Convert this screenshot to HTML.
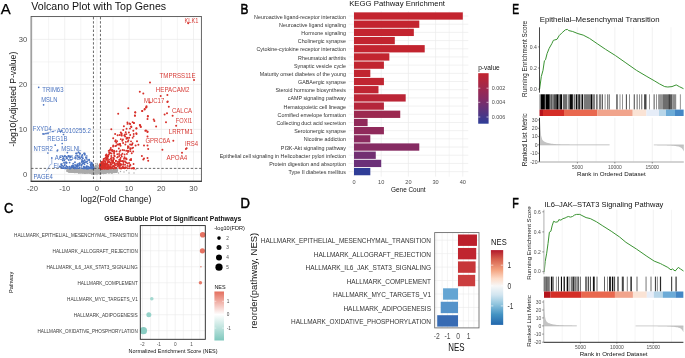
<!DOCTYPE html><html><head><meta charset="utf-8"><style>html,body{margin:0;padding:0;background:#fff;}svg{display:block;will-change:transform;}text{font-family:"Liberation Sans", sans-serif;}</style></head><body><svg xmlns="http://www.w3.org/2000/svg" width="685" height="358" viewBox="0 0 685 358"><rect width="685" height="358" fill="#fff"/><line x1="32.5" y1="16.5" x2="32.5" y2="181.3" stroke="#EBEBEB" stroke-width="0.7" />
<line x1="48.6" y1="16.5" x2="48.6" y2="181.3" stroke="#EBEBEB" stroke-width="0.5" />
<line x1="64.7" y1="16.5" x2="64.7" y2="181.3" stroke="#EBEBEB" stroke-width="0.7" />
<line x1="80.8" y1="16.5" x2="80.8" y2="181.3" stroke="#EBEBEB" stroke-width="0.5" />
<line x1="96.9" y1="16.5" x2="96.9" y2="181.3" stroke="#EBEBEB" stroke-width="0.7" />
<line x1="113" y1="16.5" x2="113" y2="181.3" stroke="#EBEBEB" stroke-width="0.5" />
<line x1="129.1" y1="16.5" x2="129.1" y2="181.3" stroke="#EBEBEB" stroke-width="0.7" />
<line x1="161.3" y1="16.5" x2="161.3" y2="181.3" stroke="#EBEBEB" stroke-width="0.7" />
<line x1="177.4" y1="16.5" x2="177.4" y2="181.3" stroke="#EBEBEB" stroke-width="0.5" />
<line x1="193.5" y1="16.5" x2="193.5" y2="181.3" stroke="#EBEBEB" stroke-width="0.7" />
<line x1="31.1" y1="174.4" x2="201.4" y2="174.4" stroke="#EBEBEB" stroke-width="0.7" />
<line x1="31.1" y1="151.9" x2="201.4" y2="151.9" stroke="#EBEBEB" stroke-width="0.5" />
<line x1="31.1" y1="129.4" x2="201.4" y2="129.4" stroke="#EBEBEB" stroke-width="0.7" />
<line x1="31.1" y1="84.4" x2="201.4" y2="84.4" stroke="#EBEBEB" stroke-width="0.7" />
<line x1="31.1" y1="61.9" x2="201.4" y2="61.9" stroke="#EBEBEB" stroke-width="0.5" />
<line x1="31.1" y1="39.4" x2="201.4" y2="39.4" stroke="#EBEBEB" stroke-width="0.7" />
<line x1="31.1" y1="16.9" x2="201.4" y2="16.9" stroke="#EBEBEB" stroke-width="0.5" />
<circle cx="83.54" cy="172.56" r="0.75" fill="#ABABAB" />
<circle cx="99.97" cy="173.44" r="0.75" fill="#ABABAB" />
<circle cx="94.19" cy="172.22" r="0.75" fill="#ABABAB" />
<circle cx="70.19" cy="170.51" r="0.75" fill="#ABABAB" />
<circle cx="69.16" cy="170.69" r="0.75" fill="#ABABAB" />
<circle cx="70.78" cy="171.84" r="0.75" fill="#ABABAB" />
<circle cx="88.6" cy="169.8" r="0.75" fill="#ABABAB" />
<circle cx="73.49" cy="171.6" r="0.75" fill="#ABABAB" />
<circle cx="98.79" cy="169.26" r="0.75" fill="#ABABAB" />
<circle cx="96.27" cy="172.07" r="0.75" fill="#ABABAB" />
<circle cx="116.32" cy="172.25" r="0.75" fill="#ABABAB" />
<circle cx="110.4" cy="171.78" r="0.75" fill="#ABABAB" />
<circle cx="74.52" cy="172.03" r="0.75" fill="#ABABAB" />
<circle cx="82.77" cy="169.76" r="0.75" fill="#ABABAB" />
<circle cx="76.35" cy="170.5" r="0.75" fill="#ABABAB" />
<circle cx="99.37" cy="172.03" r="0.75" fill="#ABABAB" />
<circle cx="94.79" cy="173.81" r="0.75" fill="#ABABAB" />
<circle cx="70.27" cy="171.44" r="0.75" fill="#ABABAB" />
<circle cx="101.45" cy="171.67" r="0.75" fill="#ABABAB" />
<circle cx="83.06" cy="170.72" r="0.75" fill="#ABABAB" />
<circle cx="90.04" cy="172.32" r="0.75" fill="#ABABAB" />
<circle cx="107.18" cy="170.26" r="0.75" fill="#ABABAB" />
<circle cx="79.54" cy="170.64" r="0.75" fill="#ABABAB" />
<circle cx="93.66" cy="169.63" r="0.75" fill="#ABABAB" />
<circle cx="103.92" cy="172.17" r="0.75" fill="#ABABAB" />
<circle cx="116.51" cy="171.99" r="0.75" fill="#ABABAB" />
<circle cx="88.28" cy="170.11" r="0.75" fill="#ABABAB" />
<circle cx="74.91" cy="170.77" r="0.75" fill="#ABABAB" />
<circle cx="69.25" cy="169.99" r="0.75" fill="#ABABAB" />
<circle cx="105.68" cy="170.84" r="0.75" fill="#ABABAB" />
<circle cx="111.25" cy="171.63" r="0.75" fill="#ABABAB" />
<circle cx="102.2" cy="170.86" r="0.75" fill="#ABABAB" />
<circle cx="96.41" cy="171.76" r="0.75" fill="#ABABAB" />
<circle cx="109.47" cy="169.22" r="0.75" fill="#ABABAB" />
<circle cx="91.09" cy="170.62" r="0.75" fill="#ABABAB" />
<circle cx="70.32" cy="169.92" r="0.75" fill="#ABABAB" />
<circle cx="99.78" cy="169.03" r="0.75" fill="#ABABAB" />
<circle cx="108.56" cy="171.91" r="0.75" fill="#ABABAB" />
<circle cx="86.66" cy="170.47" r="0.75" fill="#ABABAB" />
<circle cx="68.41" cy="170.57" r="0.75" fill="#ABABAB" />
<circle cx="75.72" cy="172.12" r="0.75" fill="#ABABAB" />
<circle cx="70.24" cy="169.71" r="0.75" fill="#ABABAB" />
<circle cx="73.77" cy="171.54" r="0.75" fill="#ABABAB" />
<circle cx="86.91" cy="169.58" r="0.75" fill="#ABABAB" />
<circle cx="71.32" cy="170.74" r="0.75" fill="#ABABAB" />
<circle cx="94.88" cy="169.6" r="0.75" fill="#ABABAB" />
<circle cx="108.43" cy="169.55" r="0.75" fill="#ABABAB" />
<circle cx="81.26" cy="171.34" r="0.75" fill="#ABABAB" />
<circle cx="85.3" cy="169.5" r="0.75" fill="#ABABAB" />
<circle cx="115.38" cy="171.96" r="0.75" fill="#ABABAB" />
<circle cx="76.13" cy="171.74" r="0.75" fill="#ABABAB" />
<circle cx="79" cy="170.96" r="0.75" fill="#ABABAB" />
<circle cx="96.87" cy="172.72" r="0.75" fill="#ABABAB" />
<circle cx="67.48" cy="170.65" r="0.75" fill="#ABABAB" />
<circle cx="85.82" cy="170.9" r="0.75" fill="#ABABAB" />
<circle cx="115.15" cy="170.09" r="0.75" fill="#ABABAB" />
<circle cx="93.17" cy="170.91" r="0.75" fill="#ABABAB" />
<circle cx="101.24" cy="173.42" r="0.75" fill="#ABABAB" />
<circle cx="112.46" cy="169.82" r="0.75" fill="#ABABAB" />
<circle cx="111.2" cy="169.78" r="0.75" fill="#ABABAB" />
<circle cx="86.99" cy="171.69" r="0.75" fill="#ABABAB" />
<circle cx="72.48" cy="170.19" r="0.75" fill="#ABABAB" />
<circle cx="70.4" cy="171.88" r="0.75" fill="#ABABAB" />
<circle cx="77.76" cy="172.1" r="0.75" fill="#ABABAB" />
<circle cx="84.36" cy="173.03" r="0.75" fill="#ABABAB" />
<circle cx="67.29" cy="171.4" r="0.75" fill="#ABABAB" />
<circle cx="72.37" cy="171.07" r="0.75" fill="#ABABAB" />
<circle cx="68.56" cy="169.37" r="0.75" fill="#ABABAB" />
<circle cx="98.12" cy="173.2" r="0.75" fill="#ABABAB" />
<circle cx="79.95" cy="171.54" r="0.75" fill="#ABABAB" />
<circle cx="85.57" cy="172.82" r="0.75" fill="#ABABAB" />
<circle cx="109.92" cy="169.03" r="0.75" fill="#ABABAB" />
<circle cx="90.68" cy="171.47" r="0.75" fill="#ABABAB" />
<circle cx="71.59" cy="171.86" r="0.75" fill="#ABABAB" />
<circle cx="84.49" cy="172.14" r="0.75" fill="#ABABAB" />
<circle cx="108.91" cy="172.38" r="0.75" fill="#ABABAB" />
<circle cx="68.44" cy="169.14" r="0.75" fill="#ABABAB" />
<circle cx="93.81" cy="173.31" r="0.75" fill="#ABABAB" />
<circle cx="94.56" cy="173.98" r="0.75" fill="#ABABAB" />
<circle cx="93.8" cy="169.11" r="0.75" fill="#ABABAB" />
<circle cx="110.64" cy="170.18" r="0.75" fill="#ABABAB" />
<circle cx="80.39" cy="171.49" r="0.75" fill="#ABABAB" />
<circle cx="75.67" cy="169.8" r="0.75" fill="#ABABAB" />
<circle cx="94.03" cy="170.12" r="0.75" fill="#ABABAB" />
<circle cx="83.84" cy="172.27" r="0.75" fill="#ABABAB" />
<circle cx="108.04" cy="169.06" r="0.75" fill="#ABABAB" />
<circle cx="110.11" cy="169.76" r="0.75" fill="#ABABAB" />
<circle cx="108.38" cy="170.06" r="0.75" fill="#ABABAB" />
<circle cx="78.67" cy="170.82" r="0.75" fill="#ABABAB" />
<circle cx="85.14" cy="173.2" r="0.75" fill="#ABABAB" />
<circle cx="68.68" cy="171.12" r="0.75" fill="#ABABAB" />
<circle cx="80.29" cy="170.2" r="0.75" fill="#ABABAB" />
<circle cx="115.32" cy="170.93" r="0.75" fill="#ABABAB" />
<circle cx="114.34" cy="169.04" r="0.75" fill="#ABABAB" />
<circle cx="115.25" cy="171.22" r="0.75" fill="#ABABAB" />
<circle cx="78.35" cy="171.9" r="0.75" fill="#ABABAB" />
<circle cx="77.16" cy="171.91" r="0.75" fill="#ABABAB" />
<circle cx="98.62" cy="169.49" r="0.75" fill="#ABABAB" />
<circle cx="109.49" cy="171.07" r="0.75" fill="#ABABAB" />
<circle cx="100.08" cy="169.96" r="0.75" fill="#ABABAB" />
<circle cx="71.53" cy="170.08" r="0.75" fill="#ABABAB" />
<circle cx="112.98" cy="169.8" r="0.75" fill="#ABABAB" />
<circle cx="104.96" cy="171.28" r="0.75" fill="#ABABAB" />
<circle cx="76.24" cy="169.75" r="0.75" fill="#ABABAB" />
<circle cx="83.98" cy="169.84" r="0.75" fill="#ABABAB" />
<circle cx="116.08" cy="171.07" r="0.75" fill="#ABABAB" />
<circle cx="87.44" cy="169.24" r="0.75" fill="#ABABAB" />
<circle cx="103.68" cy="172.71" r="0.75" fill="#ABABAB" />
<circle cx="73.66" cy="171.85" r="0.75" fill="#ABABAB" />
<circle cx="112.73" cy="169.72" r="0.75" fill="#ABABAB" />
<circle cx="74.62" cy="169.6" r="0.75" fill="#ABABAB" />
<circle cx="116.52" cy="170.16" r="0.75" fill="#ABABAB" />
<circle cx="84.88" cy="170.94" r="0.75" fill="#ABABAB" />
<circle cx="73.86" cy="172.33" r="0.75" fill="#ABABAB" />
<circle cx="116.05" cy="170.2" r="0.75" fill="#ABABAB" />
<circle cx="93.73" cy="169.33" r="0.75" fill="#ABABAB" />
<circle cx="89.07" cy="169.6" r="0.75" fill="#ABABAB" />
<circle cx="108.78" cy="172.19" r="0.75" fill="#ABABAB" />
<circle cx="79.93" cy="171.75" r="0.75" fill="#ABABAB" />
<circle cx="79.36" cy="170.59" r="0.75" fill="#ABABAB" />
<circle cx="80.3" cy="171.28" r="0.75" fill="#ABABAB" />
<circle cx="73.86" cy="169.3" r="0.75" fill="#ABABAB" />
<circle cx="85.05" cy="171.34" r="0.75" fill="#ABABAB" />
<circle cx="96.58" cy="169.48" r="0.75" fill="#ABABAB" />
<circle cx="88.4" cy="169.38" r="0.75" fill="#ABABAB" />
<circle cx="92.47" cy="171.31" r="0.75" fill="#ABABAB" />
<circle cx="93.57" cy="173.94" r="0.75" fill="#ABABAB" />
<circle cx="89.38" cy="172.82" r="0.75" fill="#ABABAB" />
<circle cx="67.47" cy="169.57" r="0.75" fill="#ABABAB" />
<circle cx="75.93" cy="170.87" r="0.75" fill="#ABABAB" />
<circle cx="103.7" cy="170.98" r="0.75" fill="#ABABAB" />
<circle cx="83.65" cy="171.02" r="0.75" fill="#ABABAB" />
<circle cx="95.18" cy="170.11" r="0.75" fill="#ABABAB" />
<circle cx="72.61" cy="170.44" r="0.75" fill="#ABABAB" />
<circle cx="79.76" cy="171.8" r="0.75" fill="#ABABAB" />
<circle cx="106.07" cy="171.1" r="0.75" fill="#ABABAB" />
<circle cx="95.49" cy="170.24" r="0.75" fill="#ABABAB" />
<circle cx="113.11" cy="171.05" r="0.75" fill="#ABABAB" />
<circle cx="98.04" cy="171.44" r="0.75" fill="#ABABAB" />
<circle cx="93" cy="170.53" r="0.75" fill="#ABABAB" />
<circle cx="90" cy="171.21" r="0.75" fill="#ABABAB" />
<circle cx="91.29" cy="169.28" r="0.75" fill="#ABABAB" />
<circle cx="102.4" cy="169.57" r="0.75" fill="#ABABAB" />
<circle cx="114.6" cy="171.63" r="0.75" fill="#ABABAB" />
<circle cx="95.38" cy="169.29" r="0.75" fill="#ABABAB" />
<circle cx="109.47" cy="172.44" r="0.75" fill="#ABABAB" />
<circle cx="73.39" cy="170.86" r="0.75" fill="#ABABAB" />
<circle cx="70.92" cy="171.38" r="0.75" fill="#ABABAB" />
<circle cx="70.95" cy="170.04" r="0.75" fill="#ABABAB" />
<circle cx="106.65" cy="169.43" r="0.75" fill="#ABABAB" />
<circle cx="75.03" cy="169.99" r="0.75" fill="#ABABAB" />
<circle cx="100.44" cy="173.06" r="0.75" fill="#ABABAB" />
<circle cx="111.62" cy="169.12" r="0.75" fill="#ABABAB" />
<circle cx="78.31" cy="169.18" r="0.75" fill="#ABABAB" />
<circle cx="87.28" cy="171.31" r="0.75" fill="#ABABAB" />
<circle cx="117" cy="169.56" r="0.75" fill="#ABABAB" />
<circle cx="75.39" cy="170.99" r="0.75" fill="#ABABAB" />
<circle cx="93.18" cy="172.3" r="0.75" fill="#ABABAB" />
<circle cx="77.11" cy="171.49" r="0.75" fill="#ABABAB" />
<circle cx="103.55" cy="173.39" r="0.75" fill="#ABABAB" />
<circle cx="95.11" cy="171.89" r="0.75" fill="#ABABAB" />
<circle cx="68.18" cy="170.94" r="0.75" fill="#ABABAB" />
<circle cx="98.62" cy="171.39" r="0.75" fill="#ABABAB" />
<circle cx="70.51" cy="169.05" r="0.75" fill="#ABABAB" />
<circle cx="106.88" cy="169.12" r="0.75" fill="#ABABAB" />
<circle cx="72.54" cy="171.4" r="0.75" fill="#ABABAB" />
<circle cx="69.26" cy="169.66" r="0.75" fill="#ABABAB" />
<circle cx="80.86" cy="172.45" r="0.75" fill="#ABABAB" />
<circle cx="88.49" cy="169.41" r="0.75" fill="#ABABAB" />
<circle cx="108.41" cy="172.02" r="0.75" fill="#ABABAB" />
<circle cx="74.78" cy="169.28" r="0.75" fill="#ABABAB" />
<circle cx="95.94" cy="170.53" r="0.75" fill="#ABABAB" />
<circle cx="71.77" cy="172.02" r="0.75" fill="#ABABAB" />
<circle cx="101.85" cy="171.66" r="0.75" fill="#ABABAB" />
<circle cx="70.91" cy="169.19" r="0.75" fill="#ABABAB" />
<circle cx="99.15" cy="169.96" r="0.75" fill="#ABABAB" />
<circle cx="71.48" cy="169.46" r="0.75" fill="#ABABAB" />
<circle cx="70.62" cy="169.43" r="0.75" fill="#ABABAB" />
<circle cx="90.07" cy="172.13" r="0.75" fill="#ABABAB" />
<circle cx="95.06" cy="169.38" r="0.75" fill="#ABABAB" />
<circle cx="80.73" cy="172.44" r="0.75" fill="#ABABAB" />
<circle cx="93.74" cy="172.84" r="0.75" fill="#ABABAB" />
<circle cx="72.77" cy="171.76" r="0.75" fill="#ABABAB" />
<circle cx="69.81" cy="171.43" r="0.75" fill="#ABABAB" />
<circle cx="82.95" cy="171.88" r="0.75" fill="#ABABAB" />
<circle cx="105.43" cy="172.07" r="0.75" fill="#ABABAB" />
<circle cx="92.4" cy="173.05" r="0.75" fill="#ABABAB" />
<circle cx="84.71" cy="173.21" r="0.75" fill="#ABABAB" />
<circle cx="79.86" cy="172.82" r="0.75" fill="#ABABAB" />
<circle cx="104.1" cy="170.99" r="0.75" fill="#ABABAB" />
<circle cx="76.79" cy="170.9" r="0.75" fill="#ABABAB" />
<circle cx="114.22" cy="172.21" r="0.75" fill="#ABABAB" />
<circle cx="108.41" cy="171.31" r="0.75" fill="#ABABAB" />
<circle cx="92.14" cy="169.81" r="0.75" fill="#ABABAB" />
<circle cx="87.02" cy="171.21" r="0.75" fill="#ABABAB" />
<circle cx="101.82" cy="169.08" r="0.75" fill="#ABABAB" />
<circle cx="84.49" cy="169.72" r="0.75" fill="#ABABAB" />
<circle cx="102.78" cy="170.66" r="0.75" fill="#ABABAB" />
<circle cx="87.6" cy="171.96" r="0.75" fill="#ABABAB" />
<circle cx="70.01" cy="171.66" r="0.75" fill="#ABABAB" />
<circle cx="70.83" cy="169.81" r="0.75" fill="#ABABAB" />
<circle cx="80.11" cy="172.27" r="0.75" fill="#ABABAB" />
<circle cx="71.52" cy="169.51" r="0.75" fill="#ABABAB" />
<circle cx="111" cy="170.27" r="0.75" fill="#ABABAB" />
<circle cx="81.44" cy="172.04" r="0.75" fill="#ABABAB" />
<circle cx="82" cy="171.19" r="0.75" fill="#ABABAB" />
<circle cx="75.19" cy="170.93" r="0.75" fill="#ABABAB" />
<circle cx="80.5" cy="169.15" r="0.75" fill="#ABABAB" />
<circle cx="116.13" cy="170.55" r="0.75" fill="#ABABAB" />
<circle cx="79.56" cy="169.13" r="0.75" fill="#ABABAB" />
<circle cx="82.83" cy="171.66" r="0.75" fill="#ABABAB" />
<circle cx="67.33" cy="170.75" r="0.75" fill="#ABABAB" />
<circle cx="91.12" cy="171.4" r="0.75" fill="#ABABAB" />
<circle cx="77.37" cy="170.82" r="0.75" fill="#ABABAB" />
<circle cx="67.52" cy="171.09" r="0.75" fill="#ABABAB" />
<circle cx="71.78" cy="170.92" r="0.75" fill="#ABABAB" />
<circle cx="69.37" cy="171.93" r="0.75" fill="#ABABAB" />
<circle cx="82.56" cy="172.15" r="0.75" fill="#ABABAB" />
<circle cx="96.69" cy="171.38" r="0.75" fill="#ABABAB" />
<circle cx="104.98" cy="170.49" r="0.75" fill="#ABABAB" />
<circle cx="103.24" cy="169.55" r="0.75" fill="#ABABAB" />
<circle cx="86.84" cy="172.01" r="0.75" fill="#ABABAB" />
<circle cx="116.74" cy="171.87" r="0.75" fill="#ABABAB" />
<circle cx="103.65" cy="170.6" r="0.75" fill="#ABABAB" />
<circle cx="69.48" cy="169.5" r="0.75" fill="#ABABAB" />
<circle cx="112.08" cy="170.4" r="0.75" fill="#ABABAB" />
<circle cx="104.14" cy="169.83" r="0.75" fill="#ABABAB" />
<circle cx="74.27" cy="170.63" r="0.75" fill="#ABABAB" />
<circle cx="92.61" cy="169.82" r="0.75" fill="#ABABAB" />
<circle cx="107.7" cy="169.72" r="0.75" fill="#ABABAB" />
<circle cx="96.61" cy="169.54" r="0.75" fill="#ABABAB" />
<circle cx="101.58" cy="170.43" r="0.75" fill="#ABABAB" />
<circle cx="78.83" cy="172.68" r="0.75" fill="#ABABAB" />
<circle cx="73.96" cy="171.17" r="0.75" fill="#ABABAB" />
<circle cx="72.55" cy="169.54" r="0.75" fill="#ABABAB" />
<circle cx="95.33" cy="170.92" r="0.75" fill="#ABABAB" />
<circle cx="98.73" cy="170.56" r="0.75" fill="#ABABAB" />
<circle cx="91.85" cy="173.87" r="0.75" fill="#ABABAB" />
<circle cx="107.35" cy="170.05" r="0.75" fill="#ABABAB" />
<circle cx="92.54" cy="171.3" r="0.75" fill="#ABABAB" />
<circle cx="100.39" cy="173.43" r="0.75" fill="#ABABAB" />
<circle cx="104.29" cy="172.31" r="0.75" fill="#ABABAB" />
<circle cx="71.02" cy="171.31" r="0.75" fill="#ABABAB" />
<circle cx="103.91" cy="172.54" r="0.75" fill="#ABABAB" />
<circle cx="104.44" cy="169.11" r="0.75" fill="#ABABAB" />
<circle cx="92.09" cy="172.03" r="0.75" fill="#ABABAB" />
<circle cx="91.34" cy="170.53" r="0.75" fill="#ABABAB" />
<circle cx="105.8" cy="170.64" r="0.75" fill="#ABABAB" />
<circle cx="99.56" cy="173.44" r="0.75" fill="#ABABAB" />
<circle cx="74.68" cy="171.57" r="0.75" fill="#ABABAB" />
<circle cx="104.61" cy="172.06" r="0.75" fill="#ABABAB" />
<circle cx="95.8" cy="174.07" r="0.75" fill="#ABABAB" />
<circle cx="70.32" cy="171.25" r="0.75" fill="#ABABAB" />
<circle cx="101.03" cy="170.44" r="0.75" fill="#ABABAB" />
<circle cx="101.22" cy="172.32" r="0.75" fill="#ABABAB" />
<circle cx="93.22" cy="171.68" r="0.75" fill="#ABABAB" />
<circle cx="90.7" cy="173.22" r="0.75" fill="#ABABAB" />
<circle cx="112.17" cy="172.01" r="0.75" fill="#ABABAB" />
<circle cx="116.41" cy="169.22" r="0.75" fill="#ABABAB" />
<circle cx="68.16" cy="170.57" r="0.75" fill="#ABABAB" />
<circle cx="108.46" cy="169.13" r="0.75" fill="#ABABAB" />
<circle cx="89.85" cy="172.45" r="0.75" fill="#ABABAB" />
<circle cx="77.82" cy="169.2" r="0.75" fill="#ABABAB" />
<circle cx="77.86" cy="170.55" r="0.75" fill="#ABABAB" />
<circle cx="74.4" cy="170.63" r="0.75" fill="#ABABAB" />
<circle cx="115.13" cy="172.05" r="0.75" fill="#ABABAB" />
<circle cx="108.48" cy="171" r="0.75" fill="#ABABAB" />
<circle cx="111.82" cy="170.12" r="0.75" fill="#ABABAB" />
<circle cx="78.9" cy="169.39" r="0.75" fill="#ABABAB" />
<circle cx="91.7" cy="173.75" r="0.75" fill="#ABABAB" />
<circle cx="67.46" cy="170.44" r="0.75" fill="#ABABAB" />
<circle cx="89.92" cy="172.3" r="0.75" fill="#ABABAB" />
<circle cx="74.34" cy="171.24" r="0.75" fill="#ABABAB" />
<circle cx="83.15" cy="169.66" r="0.75" fill="#ABABAB" />
<circle cx="67.36" cy="169.71" r="0.75" fill="#ABABAB" />
<circle cx="109.43" cy="172.51" r="0.75" fill="#ABABAB" />
<circle cx="113.81" cy="170.04" r="0.75" fill="#ABABAB" />
<circle cx="112.56" cy="171.65" r="0.75" fill="#ABABAB" />
<circle cx="85.97" cy="171.67" r="0.75" fill="#ABABAB" />
<circle cx="117.45" cy="170.36" r="0.75" fill="#ABABAB" />
<circle cx="85.4" cy="171.49" r="0.75" fill="#ABABAB" />
<circle cx="81.1" cy="172.79" r="0.75" fill="#ABABAB" />
<circle cx="72.39" cy="169.54" r="0.75" fill="#ABABAB" />
<circle cx="81.62" cy="169.26" r="0.75" fill="#ABABAB" />
<circle cx="79.8" cy="171.85" r="0.75" fill="#ABABAB" />
<circle cx="92.94" cy="173.03" r="0.75" fill="#ABABAB" />
<circle cx="86.03" cy="169.19" r="0.75" fill="#ABABAB" />
<circle cx="111.69" cy="169.71" r="0.75" fill="#ABABAB" />
<circle cx="98.97" cy="169.42" r="0.75" fill="#ABABAB" />
<circle cx="114.53" cy="170.61" r="0.75" fill="#ABABAB" />
<circle cx="103.42" cy="173.27" r="0.75" fill="#ABABAB" />
<circle cx="104.06" cy="171.44" r="0.75" fill="#ABABAB" />
<circle cx="105.08" cy="170.55" r="0.75" fill="#ABABAB" />
<circle cx="81.65" cy="172.83" r="0.75" fill="#ABABAB" />
<circle cx="113.83" cy="172.16" r="0.75" fill="#ABABAB" />
<circle cx="90.99" cy="172.16" r="0.75" fill="#ABABAB" />
<circle cx="82.23" cy="170.06" r="0.75" fill="#ABABAB" />
<circle cx="116.32" cy="171.52" r="0.75" fill="#ABABAB" />
<circle cx="100.23" cy="172.33" r="0.75" fill="#ABABAB" />
<circle cx="95.27" cy="172.13" r="0.75" fill="#ABABAB" />
<circle cx="75.68" cy="171.96" r="0.75" fill="#ABABAB" />
<circle cx="77.72" cy="169.35" r="0.75" fill="#ABABAB" />
<circle cx="92.25" cy="172.84" r="0.75" fill="#ABABAB" />
<circle cx="112.8" cy="169.01" r="0.75" fill="#ABABAB" />
<circle cx="89.88" cy="173.06" r="0.75" fill="#ABABAB" />
<circle cx="76.94" cy="172.31" r="0.75" fill="#ABABAB" />
<circle cx="84.45" cy="172.88" r="0.75" fill="#ABABAB" />
<circle cx="79.29" cy="171.84" r="0.75" fill="#ABABAB" />
<circle cx="95.89" cy="169.58" r="0.75" fill="#ABABAB" />
<circle cx="104.93" cy="171.56" r="0.75" fill="#ABABAB" />
<circle cx="88.07" cy="171.17" r="0.75" fill="#ABABAB" />
<circle cx="86.21" cy="171.92" r="0.75" fill="#ABABAB" />
<circle cx="70.39" cy="171.23" r="0.75" fill="#ABABAB" />
<circle cx="115.88" cy="172.01" r="0.75" fill="#ABABAB" />
<circle cx="92.56" cy="170.83" r="0.75" fill="#ABABAB" />
<circle cx="110.62" cy="172.05" r="0.75" fill="#ABABAB" />
<circle cx="80.89" cy="171.98" r="0.75" fill="#ABABAB" />
<circle cx="87.36" cy="171.5" r="0.75" fill="#ABABAB" />
<circle cx="115.19" cy="169.53" r="0.75" fill="#ABABAB" />
<circle cx="111.12" cy="172.76" r="0.75" fill="#ABABAB" />
<circle cx="68.9" cy="169.86" r="0.75" fill="#ABABAB" />
<circle cx="112.27" cy="170.98" r="0.75" fill="#ABABAB" />
<circle cx="96.77" cy="174.05" r="0.75" fill="#ABABAB" />
<circle cx="86.94" cy="169.33" r="0.75" fill="#ABABAB" />
<circle cx="108.75" cy="169.58" r="0.75" fill="#ABABAB" />
<circle cx="116.11" cy="171.58" r="0.75" fill="#ABABAB" />
<circle cx="72.75" cy="171.78" r="0.75" fill="#ABABAB" />
<circle cx="93.52" cy="170.6" r="0.75" fill="#ABABAB" />
<circle cx="114.57" cy="169.99" r="0.75" fill="#ABABAB" />
<circle cx="99.79" cy="170.13" r="0.75" fill="#ABABAB" />
<circle cx="90.25" cy="171.13" r="0.75" fill="#ABABAB" />
<circle cx="69.26" cy="169.65" r="0.75" fill="#ABABAB" />
<circle cx="78.96" cy="169.3" r="0.75" fill="#ABABAB" />
<circle cx="99.7" cy="172.35" r="0.75" fill="#ABABAB" />
<circle cx="73.7" cy="171.52" r="0.75" fill="#ABABAB" />
<circle cx="99.24" cy="170.46" r="0.75" fill="#ABABAB" />
<circle cx="72.91" cy="172.07" r="0.75" fill="#ABABAB" />
<circle cx="93.62" cy="171.1" r="0.75" fill="#ABABAB" />
<circle cx="86.77" cy="172.46" r="0.75" fill="#ABABAB" />
<circle cx="97.47" cy="173.94" r="0.75" fill="#ABABAB" />
<circle cx="82.42" cy="171.21" r="0.75" fill="#ABABAB" />
<circle cx="115.45" cy="170.24" r="0.75" fill="#ABABAB" />
<circle cx="111.67" cy="170.99" r="0.75" fill="#ABABAB" />
<circle cx="79.07" cy="171.87" r="0.75" fill="#ABABAB" />
<circle cx="115.53" cy="170.03" r="0.75" fill="#ABABAB" />
<circle cx="82.72" cy="173.03" r="0.75" fill="#ABABAB" />
<circle cx="92.31" cy="170.6" r="0.75" fill="#ABABAB" />
<circle cx="88.37" cy="172.41" r="0.75" fill="#ABABAB" />
<circle cx="100.8" cy="169.35" r="0.75" fill="#ABABAB" />
<circle cx="78.67" cy="172.65" r="0.75" fill="#ABABAB" />
<circle cx="84.26" cy="171.46" r="0.75" fill="#ABABAB" />
<circle cx="101.56" cy="172.73" r="0.75" fill="#ABABAB" />
<circle cx="107.31" cy="170.09" r="0.75" fill="#ABABAB" />
<circle cx="92.64" cy="172.94" r="0.75" fill="#ABABAB" />
<circle cx="115.99" cy="171.37" r="0.75" fill="#ABABAB" />
<circle cx="108.47" cy="172.13" r="0.75" fill="#ABABAB" />
<circle cx="78.4" cy="169.9" r="0.75" fill="#ABABAB" />
<circle cx="82.09" cy="169.2" r="0.75" fill="#ABABAB" />
<circle cx="92.18" cy="172.99" r="0.75" fill="#ABABAB" />
<circle cx="78.49" cy="171.2" r="0.75" fill="#ABABAB" />
<circle cx="100.7" cy="169.24" r="0.75" fill="#ABABAB" />
<circle cx="74.63" cy="171.09" r="0.75" fill="#ABABAB" />
<circle cx="77.97" cy="169.1" r="0.75" fill="#ABABAB" />
<circle cx="74.4" cy="172.25" r="0.75" fill="#ABABAB" />
<circle cx="70.3" cy="170.87" r="0.75" fill="#ABABAB" />
<circle cx="112.39" cy="169.44" r="0.75" fill="#ABABAB" />
<circle cx="104.08" cy="169.01" r="0.75" fill="#ABABAB" />
<circle cx="114.07" cy="171.41" r="0.75" fill="#ABABAB" />
<circle cx="76.59" cy="169.23" r="0.75" fill="#ABABAB" />
<circle cx="104.76" cy="173.24" r="0.75" fill="#ABABAB" />
<circle cx="100.65" cy="171.94" r="0.75" fill="#ABABAB" />
<circle cx="86.06" cy="171.94" r="0.75" fill="#ABABAB" />
<circle cx="75.78" cy="172.53" r="0.75" fill="#ABABAB" />
<circle cx="81.33" cy="171.6" r="0.75" fill="#ABABAB" />
<circle cx="115.27" cy="172.07" r="0.75" fill="#ABABAB" />
<circle cx="115.71" cy="171.74" r="0.75" fill="#ABABAB" />
<circle cx="85.19" cy="169.77" r="0.75" fill="#ABABAB" />
<circle cx="108.57" cy="171.31" r="0.75" fill="#ABABAB" />
<circle cx="69.75" cy="170.6" r="0.75" fill="#ABABAB" />
<circle cx="86" cy="169.35" r="0.75" fill="#ABABAB" />
<circle cx="76.97" cy="171.31" r="0.75" fill="#ABABAB" />
<circle cx="112.33" cy="172.63" r="0.75" fill="#ABABAB" />
<circle cx="87.91" cy="169.86" r="0.75" fill="#ABABAB" />
<circle cx="105.79" cy="173.12" r="0.75" fill="#ABABAB" />
<circle cx="69.03" cy="171.79" r="0.75" fill="#ABABAB" />
<circle cx="113.49" cy="171.71" r="0.75" fill="#ABABAB" />
<circle cx="104.81" cy="169.44" r="0.75" fill="#ABABAB" />
<circle cx="84.31" cy="172.1" r="0.75" fill="#ABABAB" />
<circle cx="115.38" cy="170.34" r="0.75" fill="#ABABAB" />
<circle cx="80.45" cy="170.11" r="0.75" fill="#ABABAB" />
<circle cx="83.17" cy="172.01" r="0.75" fill="#ABABAB" />
<circle cx="67.47" cy="169.69" r="0.75" fill="#ABABAB" />
<circle cx="113.31" cy="170.34" r="0.75" fill="#ABABAB" />
<circle cx="114.66" cy="172.46" r="0.75" fill="#ABABAB" />
<circle cx="79.02" cy="171" r="0.75" fill="#ABABAB" />
<circle cx="115.34" cy="169.16" r="0.75" fill="#ABABAB" />
<circle cx="86.69" cy="172.34" r="0.75" fill="#ABABAB" />
<circle cx="88.87" cy="171.35" r="0.75" fill="#ABABAB" />
<circle cx="113.9" cy="171.95" r="0.75" fill="#ABABAB" />
<circle cx="107.59" cy="170.08" r="0.75" fill="#ABABAB" />
<circle cx="108.6" cy="169.92" r="0.75" fill="#ABABAB" />
<circle cx="97.78" cy="172.34" r="0.75" fill="#ABABAB" />
<circle cx="83.33" cy="171.66" r="0.75" fill="#ABABAB" />
<circle cx="106.57" cy="172.9" r="0.75" fill="#ABABAB" />
<circle cx="77.19" cy="169.9" r="0.75" fill="#ABABAB" />
<circle cx="79.7" cy="172.62" r="0.75" fill="#ABABAB" />
<circle cx="68.98" cy="170.33" r="0.75" fill="#ABABAB" />
<circle cx="83.64" cy="169.08" r="0.75" fill="#ABABAB" />
<circle cx="111.65" cy="169.05" r="0.75" fill="#ABABAB" />
<circle cx="80.58" cy="172.61" r="0.75" fill="#ABABAB" />
<circle cx="72.12" cy="170.62" r="0.75" fill="#ABABAB" />
<circle cx="102.93" cy="171.51" r="0.75" fill="#ABABAB" />
<circle cx="79.04" cy="171.22" r="0.75" fill="#ABABAB" />
<circle cx="98.44" cy="170.6" r="0.75" fill="#ABABAB" />
<circle cx="104.85" cy="169.67" r="0.75" fill="#ABABAB" />
<circle cx="100.65" cy="173.15" r="0.75" fill="#ABABAB" />
<circle cx="109.51" cy="171.81" r="0.75" fill="#ABABAB" />
<circle cx="95.75" cy="172.22" r="0.75" fill="#ABABAB" />
<circle cx="104.35" cy="172.54" r="0.75" fill="#ABABAB" />
<circle cx="79.7" cy="171.92" r="0.75" fill="#ABABAB" />
<circle cx="74.98" cy="169.4" r="0.75" fill="#ABABAB" />
<circle cx="96.32" cy="172.43" r="0.75" fill="#ABABAB" />
<circle cx="87.17" cy="169.03" r="0.75" fill="#ABABAB" />
<circle cx="92.76" cy="172.81" r="0.75" fill="#ABABAB" />
<circle cx="107.89" cy="170.43" r="0.75" fill="#ABABAB" />
<circle cx="117.05" cy="172.01" r="0.75" fill="#ABABAB" />
<circle cx="91.12" cy="169.87" r="0.75" fill="#ABABAB" />
<circle cx="109.5" cy="169.34" r="0.75" fill="#ABABAB" />
<circle cx="69.3" cy="171.12" r="0.75" fill="#ABABAB" />
<circle cx="73.26" cy="171.7" r="0.75" fill="#ABABAB" />
<circle cx="116.15" cy="170.43" r="0.75" fill="#ABABAB" />
<circle cx="114" cy="171.26" r="0.75" fill="#ABABAB" />
<circle cx="110.78" cy="171.14" r="0.75" fill="#ABABAB" />
<circle cx="80.33" cy="169.87" r="0.75" fill="#ABABAB" />
<circle cx="114.78" cy="172.17" r="0.75" fill="#ABABAB" />
<circle cx="97.22" cy="170.91" r="0.75" fill="#ABABAB" />
<circle cx="78.21" cy="171.36" r="0.75" fill="#ABABAB" />
<circle cx="74.38" cy="171.72" r="0.75" fill="#ABABAB" />
<circle cx="80.08" cy="170.56" r="0.75" fill="#ABABAB" />
<circle cx="100.01" cy="172.81" r="0.75" fill="#ABABAB" />
<circle cx="67.85" cy="170.93" r="0.75" fill="#ABABAB" />
<circle cx="101.35" cy="172.8" r="0.75" fill="#ABABAB" />
<circle cx="82.96" cy="172.3" r="0.75" fill="#ABABAB" />
<circle cx="107.22" cy="170.89" r="0.75" fill="#ABABAB" />
<circle cx="70.45" cy="171.78" r="0.75" fill="#ABABAB" />
<circle cx="87.13" cy="171.02" r="0.75" fill="#ABABAB" />
<circle cx="99.38" cy="173.39" r="0.75" fill="#ABABAB" />
<circle cx="75.5" cy="170.07" r="0.75" fill="#ABABAB" />
<circle cx="87.86" cy="172.26" r="0.75" fill="#ABABAB" />
<circle cx="82.73" cy="169.19" r="0.75" fill="#ABABAB" />
<circle cx="82.97" cy="170.8" r="0.75" fill="#ABABAB" />
<circle cx="85.22" cy="171.53" r="0.75" fill="#ABABAB" />
<circle cx="110.69" cy="169.01" r="0.75" fill="#ABABAB" />
<circle cx="85.55" cy="172.5" r="0.75" fill="#ABABAB" />
<circle cx="103.85" cy="172.55" r="0.75" fill="#ABABAB" />
<circle cx="67.57" cy="169.28" r="0.75" fill="#ABABAB" />
<circle cx="88.56" cy="169.83" r="0.75" fill="#ABABAB" />
<circle cx="87.68" cy="169.53" r="0.75" fill="#ABABAB" />
<circle cx="90.43" cy="172.99" r="0.75" fill="#ABABAB" />
<circle cx="68.02" cy="170.3" r="0.75" fill="#ABABAB" />
<circle cx="99.46" cy="169.44" r="0.75" fill="#ABABAB" />
<circle cx="71.75" cy="170.21" r="0.75" fill="#ABABAB" />
<circle cx="85.9" cy="171.17" r="0.75" fill="#ABABAB" />
<circle cx="74.6" cy="171.47" r="0.75" fill="#ABABAB" />
<circle cx="93.45" cy="169.37" r="0.75" fill="#ABABAB" />
<circle cx="72.74" cy="170.67" r="0.75" fill="#ABABAB" />
<circle cx="107.7" cy="169.14" r="0.75" fill="#ABABAB" />
<circle cx="77.19" cy="172.19" r="0.75" fill="#ABABAB" />
<circle cx="114.65" cy="169.09" r="0.75" fill="#ABABAB" />
<circle cx="91.52" cy="173.6" r="0.75" fill="#ABABAB" />
<circle cx="113.8" cy="171.22" r="0.75" fill="#ABABAB" />
<circle cx="112.7" cy="170.41" r="0.75" fill="#ABABAB" />
<circle cx="108.7" cy="172.4" r="0.75" fill="#ABABAB" />
<circle cx="106.75" cy="172.28" r="0.75" fill="#ABABAB" />
<circle cx="87.59" cy="169.7" r="0.75" fill="#ABABAB" />
<circle cx="108.93" cy="172.29" r="0.75" fill="#ABABAB" />
<circle cx="78.23" cy="171.25" r="0.75" fill="#ABABAB" />
<circle cx="93.29" cy="172.09" r="0.75" fill="#ABABAB" />
<circle cx="73.46" cy="171.52" r="0.75" fill="#ABABAB" />
<circle cx="103.69" cy="169.46" r="0.75" fill="#ABABAB" />
<circle cx="69.34" cy="170.31" r="0.75" fill="#ABABAB" />
<circle cx="105.32" cy="173.17" r="0.75" fill="#ABABAB" />
<circle cx="109.38" cy="172.52" r="0.75" fill="#ABABAB" />
<circle cx="97.39" cy="171.25" r="0.75" fill="#ABABAB" />
<circle cx="98.77" cy="172.39" r="0.75" fill="#ABABAB" />
<circle cx="88.38" cy="170.92" r="0.75" fill="#ABABAB" />
<circle cx="88.66" cy="170.58" r="0.75" fill="#ABABAB" />
<circle cx="89.72" cy="171.64" r="0.75" fill="#ABABAB" />
<circle cx="68.45" cy="170.11" r="0.75" fill="#ABABAB" />
<circle cx="91.86" cy="172.74" r="0.75" fill="#ABABAB" />
<circle cx="105.63" cy="169.95" r="0.75" fill="#ABABAB" />
<circle cx="90.3" cy="172.9" r="0.75" fill="#ABABAB" />
<circle cx="91.05" cy="173.3" r="0.75" fill="#ABABAB" />
<circle cx="73.73" cy="170.92" r="0.75" fill="#ABABAB" />
<circle cx="71.88" cy="170.79" r="0.75" fill="#ABABAB" />
<circle cx="92.9" cy="173.77" r="0.75" fill="#ABABAB" />
<circle cx="99.25" cy="173.45" r="0.75" fill="#ABABAB" />
<circle cx="104.12" cy="169.99" r="0.75" fill="#ABABAB" />
<circle cx="92.97" cy="173.71" r="0.75" fill="#ABABAB" />
<circle cx="92.59" cy="172.08" r="0.75" fill="#ABABAB" />
<circle cx="115.04" cy="172.04" r="0.75" fill="#ABABAB" />
<circle cx="110.33" cy="169.02" r="0.75" fill="#ABABAB" />
<circle cx="104.05" cy="169.82" r="0.75" fill="#ABABAB" />
<circle cx="77.01" cy="169.07" r="0.75" fill="#ABABAB" />
<circle cx="91.98" cy="169.21" r="0.75" fill="#ABABAB" />
<circle cx="113.29" cy="172.06" r="0.75" fill="#ABABAB" />
<circle cx="106.88" cy="169.29" r="0.75" fill="#ABABAB" />
<circle cx="70.57" cy="171.01" r="0.75" fill="#ABABAB" />
<circle cx="105.26" cy="172.65" r="0.75" fill="#ABABAB" />
<circle cx="112.31" cy="171.72" r="0.75" fill="#ABABAB" />
<circle cx="108.25" cy="172.5" r="0.75" fill="#ABABAB" />
<circle cx="92.5" cy="169.4" r="0.75" fill="#ABABAB" />
<circle cx="77.74" cy="171.73" r="0.75" fill="#ABABAB" />
<circle cx="92.69" cy="172.38" r="0.75" fill="#ABABAB" />
<circle cx="69.13" cy="171.44" r="0.75" fill="#ABABAB" />
<circle cx="75.37" cy="169.22" r="0.75" fill="#ABABAB" />
<circle cx="101.42" cy="169.49" r="0.75" fill="#ABABAB" />
<circle cx="75.75" cy="169.76" r="0.75" fill="#ABABAB" />
<circle cx="73.06" cy="170.55" r="0.75" fill="#ABABAB" />
<circle cx="99.24" cy="172.1" r="0.75" fill="#ABABAB" />
<circle cx="111.13" cy="170.71" r="0.75" fill="#ABABAB" />
<circle cx="96.41" cy="169.6" r="0.75" fill="#ABABAB" />
<circle cx="72.53" cy="169.02" r="0.75" fill="#ABABAB" />
<circle cx="98.91" cy="171.95" r="0.75" fill="#ABABAB" />
<circle cx="107.34" cy="172.06" r="0.75" fill="#ABABAB" />
<circle cx="117.03" cy="170.42" r="0.75" fill="#ABABAB" />
<circle cx="85.37" cy="170.02" r="0.75" fill="#ABABAB" />
<circle cx="89.49" cy="172.86" r="0.75" fill="#ABABAB" />
<circle cx="104.63" cy="173.18" r="0.75" fill="#ABABAB" />
<circle cx="108.46" cy="172.04" r="0.75" fill="#ABABAB" />
<circle cx="99.39" cy="169.08" r="0.75" fill="#ABABAB" />
<circle cx="96.71" cy="170.7" r="0.75" fill="#ABABAB" />
<circle cx="82.98" cy="173.14" r="0.75" fill="#ABABAB" />
<circle cx="68.97" cy="171.52" r="0.75" fill="#ABABAB" />
<circle cx="98.22" cy="171.8" r="0.75" fill="#ABABAB" />
<circle cx="93.03" cy="169.52" r="0.75" fill="#ABABAB" />
<circle cx="73.91" cy="171.61" r="0.75" fill="#ABABAB" />
<circle cx="100.08" cy="173.67" r="0.75" fill="#ABABAB" />
<circle cx="67.41" cy="170.83" r="0.75" fill="#ABABAB" />
<circle cx="72.62" cy="171.1" r="0.75" fill="#ABABAB" />
<circle cx="78.54" cy="170.57" r="0.75" fill="#ABABAB" />
<circle cx="96.87" cy="173.01" r="0.75" fill="#ABABAB" />
<circle cx="98.62" cy="171.57" r="0.75" fill="#ABABAB" />
<circle cx="74.04" cy="169.22" r="0.75" fill="#ABABAB" />
<circle cx="79.51" cy="172.28" r="0.75" fill="#ABABAB" />
<circle cx="72.09" cy="170.17" r="0.75" fill="#ABABAB" />
<circle cx="111.04" cy="169.84" r="0.75" fill="#ABABAB" />
<circle cx="87.47" cy="172.32" r="0.75" fill="#ABABAB" />
<circle cx="67.85" cy="170.02" r="0.75" fill="#ABABAB" />
<circle cx="95.52" cy="172.35" r="0.75" fill="#ABABAB" />
<circle cx="99.71" cy="171.67" r="0.75" fill="#ABABAB" />
<circle cx="114.35" cy="169.95" r="0.75" fill="#ABABAB" />
<circle cx="79.76" cy="169.37" r="0.75" fill="#ABABAB" />
<circle cx="69.49" cy="170.41" r="0.75" fill="#ABABAB" />
<circle cx="87.67" cy="172.46" r="0.75" fill="#ABABAB" />
<circle cx="70.21" cy="169.68" r="0.75" fill="#ABABAB" />
<circle cx="67.9" cy="170.29" r="0.75" fill="#ABABAB" />
<circle cx="114.54" cy="172.05" r="0.75" fill="#ABABAB" />
<circle cx="77.3" cy="170.44" r="0.75" fill="#ABABAB" />
<circle cx="92.74" cy="170.78" r="0.75" fill="#ABABAB" />
<circle cx="108.13" cy="172.38" r="0.75" fill="#ABABAB" />
<circle cx="82.82" cy="171.89" r="0.75" fill="#ABABAB" />
<circle cx="69.71" cy="169.34" r="0.75" fill="#ABABAB" />
<circle cx="106.61" cy="170.2" r="0.75" fill="#ABABAB" />
<circle cx="67.59" cy="169.44" r="0.75" fill="#ABABAB" />
<circle cx="104.71" cy="171.34" r="0.75" fill="#ABABAB" />
<circle cx="104.54" cy="171.41" r="0.75" fill="#ABABAB" />
<circle cx="78.63" cy="172.38" r="0.75" fill="#ABABAB" />
<circle cx="78.94" cy="172.66" r="0.75" fill="#ABABAB" />
<circle cx="84.13" cy="170.06" r="0.75" fill="#ABABAB" />
<circle cx="102.19" cy="169.71" r="0.75" fill="#ABABAB" />
<circle cx="103.03" cy="172.32" r="0.75" fill="#ABABAB" />
<circle cx="95.09" cy="171.91" r="0.75" fill="#ABABAB" />
<circle cx="106.88" cy="171" r="0.75" fill="#ABABAB" />
<circle cx="80.6" cy="170.41" r="0.75" fill="#ABABAB" />
<circle cx="115.76" cy="171.71" r="0.75" fill="#ABABAB" />
<circle cx="111.48" cy="172.76" r="0.75" fill="#ABABAB" />
<circle cx="80.35" cy="172" r="0.75" fill="#ABABAB" />
<circle cx="104.64" cy="169.24" r="0.75" fill="#ABABAB" />
<circle cx="104.76" cy="171.95" r="0.75" fill="#ABABAB" />
<circle cx="111.49" cy="171.56" r="0.75" fill="#ABABAB" />
<circle cx="79.29" cy="169.35" r="0.75" fill="#ABABAB" />
<circle cx="98.96" cy="170.5" r="0.75" fill="#ABABAB" />
<circle cx="100.69" cy="169.1" r="0.75" fill="#ABABAB" />
<circle cx="90.86" cy="169.77" r="0.75" fill="#ABABAB" />
<circle cx="102.32" cy="169.65" r="0.75" fill="#ABABAB" />
<circle cx="89.24" cy="170.29" r="0.75" fill="#ABABAB" />
<circle cx="95.93" cy="172.55" r="0.75" fill="#ABABAB" />
<circle cx="77.92" cy="170.4" r="0.75" fill="#ABABAB" />
<circle cx="71.18" cy="169.28" r="0.75" fill="#ABABAB" />
<circle cx="74.54" cy="172.34" r="0.75" fill="#ABABAB" />
<circle cx="72.63" cy="169.23" r="0.75" fill="#ABABAB" />
<circle cx="84.6" cy="172.67" r="0.75" fill="#ABABAB" />
<circle cx="68.72" cy="171.82" r="0.75" fill="#ABABAB" />
<circle cx="102.07" cy="170.69" r="0.75" fill="#ABABAB" />
<circle cx="102.29" cy="170.21" r="0.75" fill="#ABABAB" />
<circle cx="70.58" cy="170.27" r="0.75" fill="#ABABAB" />
<circle cx="85.53" cy="169.79" r="0.75" fill="#ABABAB" />
<circle cx="108.44" cy="169.44" r="0.75" fill="#ABABAB" />
<circle cx="70.59" cy="169.41" r="0.75" fill="#ABABAB" />
<circle cx="113.21" cy="169.2" r="0.75" fill="#ABABAB" />
<circle cx="72.66" cy="171.6" r="0.75" fill="#ABABAB" />
<circle cx="72.9" cy="172.18" r="0.75" fill="#ABABAB" />
<circle cx="109.86" cy="169.74" r="0.75" fill="#ABABAB" />
<circle cx="99.13" cy="169.85" r="0.75" fill="#ABABAB" />
<circle cx="99" cy="172.47" r="0.75" fill="#ABABAB" />
<circle cx="72.29" cy="171.93" r="0.75" fill="#ABABAB" />
<circle cx="105.32" cy="172.45" r="0.75" fill="#ABABAB" />
<circle cx="83.31" cy="171.4" r="0.75" fill="#ABABAB" />
<circle cx="68.33" cy="171.17" r="0.75" fill="#ABABAB" />
<circle cx="81.47" cy="170.14" r="0.75" fill="#ABABAB" />
<circle cx="85.76" cy="171.97" r="0.75" fill="#ABABAB" />
<circle cx="115.7" cy="170.72" r="0.75" fill="#ABABAB" />
<circle cx="110.04" cy="170.5" r="0.75" fill="#ABABAB" />
<circle cx="68.83" cy="170.74" r="0.75" fill="#ABABAB" />
<circle cx="89.2" cy="170.06" r="0.75" fill="#ABABAB" />
<circle cx="84.7" cy="170.27" r="0.75" fill="#ABABAB" />
<circle cx="94.29" cy="172.99" r="0.75" fill="#ABABAB" />
<circle cx="110.59" cy="172.54" r="0.75" fill="#ABABAB" />
<circle cx="108.46" cy="172.38" r="0.75" fill="#ABABAB" />
<circle cx="67.34" cy="171.26" r="0.75" fill="#ABABAB" />
<circle cx="105.56" cy="169.1" r="0.75" fill="#ABABAB" />
<circle cx="67.5" cy="170.45" r="0.75" fill="#ABABAB" />
<circle cx="91.96" cy="170" r="0.75" fill="#ABABAB" />
<circle cx="76.54" cy="170.82" r="0.75" fill="#ABABAB" />
<circle cx="84.72" cy="169.72" r="0.75" fill="#ABABAB" />
<circle cx="80.37" cy="169.22" r="0.75" fill="#ABABAB" />
<circle cx="81.53" cy="172.16" r="0.75" fill="#ABABAB" />
<circle cx="102.41" cy="171.3" r="0.75" fill="#ABABAB" />
<circle cx="72.8" cy="170.2" r="0.75" fill="#ABABAB" />
<circle cx="71.34" cy="169.67" r="0.75" fill="#ABABAB" />
<circle cx="102.3" cy="169.98" r="0.75" fill="#ABABAB" />
<circle cx="98.82" cy="172.14" r="0.75" fill="#ABABAB" />
<circle cx="87.43" cy="171.73" r="0.75" fill="#ABABAB" />
<circle cx="112" cy="172.45" r="0.75" fill="#ABABAB" />
<circle cx="111.9" cy="172.69" r="0.75" fill="#ABABAB" />
<circle cx="77.63" cy="171.72" r="0.75" fill="#ABABAB" />
<circle cx="112.55" cy="170.86" r="0.75" fill="#ABABAB" />
<circle cx="86.33" cy="169.51" r="0.75" fill="#ABABAB" />
<circle cx="79.01" cy="171.05" r="0.75" fill="#ABABAB" />
<circle cx="93.98" cy="170.24" r="0.75" fill="#ABABAB" />
<circle cx="105.1" cy="170.54" r="0.75" fill="#ABABAB" />
<circle cx="84.78" cy="171.89" r="0.75" fill="#ABABAB" />
<circle cx="75.08" cy="169.55" r="0.75" fill="#ABABAB" />
<circle cx="100.53" cy="170.22" r="0.75" fill="#ABABAB" />
<circle cx="75.79" cy="170.99" r="0.75" fill="#ABABAB" />
<circle cx="106.13" cy="170.8" r="0.75" fill="#ABABAB" />
<circle cx="73.61" cy="170.81" r="0.75" fill="#ABABAB" />
<circle cx="111.74" cy="171.89" r="0.75" fill="#ABABAB" />
<circle cx="76.9" cy="171.54" r="0.75" fill="#ABABAB" />
<circle cx="102.6" cy="169.71" r="0.75" fill="#ABABAB" />
<circle cx="75.04" cy="171.93" r="0.75" fill="#ABABAB" />
<circle cx="79.71" cy="171.61" r="0.75" fill="#ABABAB" />
<circle cx="93.51" cy="173.22" r="0.75" fill="#ABABAB" />
<circle cx="83.76" cy="172.41" r="0.75" fill="#ABABAB" />
<circle cx="116.26" cy="169.93" r="0.75" fill="#ABABAB" />
<circle cx="72.39" cy="169.12" r="0.75" fill="#ABABAB" />
<circle cx="72.38" cy="171" r="0.75" fill="#ABABAB" />
<circle cx="116.7" cy="169.69" r="0.75" fill="#ABABAB" />
<circle cx="104.11" cy="171.51" r="0.75" fill="#ABABAB" />
<circle cx="77.13" cy="170.32" r="0.75" fill="#ABABAB" />
<circle cx="72.64" cy="171.6" r="0.75" fill="#ABABAB" />
<circle cx="86.78" cy="173.31" r="0.75" fill="#ABABAB" />
<circle cx="87.32" cy="169.94" r="0.75" fill="#ABABAB" />
<circle cx="102.11" cy="171.3" r="0.75" fill="#ABABAB" />
<circle cx="99.04" cy="171.61" r="0.75" fill="#ABABAB" />
<circle cx="74.4" cy="170.36" r="0.75" fill="#ABABAB" />
<circle cx="87.61" cy="170.17" r="0.75" fill="#ABABAB" />
<circle cx="112.89" cy="171.11" r="0.75" fill="#ABABAB" />
<circle cx="96.11" cy="170.28" r="0.75" fill="#ABABAB" />
<circle cx="88.43" cy="172.55" r="0.75" fill="#ABABAB" />
<circle cx="103.55" cy="169.54" r="0.75" fill="#ABABAB" />
<circle cx="106.16" cy="170.28" r="0.75" fill="#ABABAB" />
<circle cx="110.1" cy="170.26" r="0.75" fill="#ABABAB" />
<circle cx="99.5" cy="171.63" r="0.75" fill="#ABABAB" />
<circle cx="83" cy="170.54" r="0.75" fill="#ABABAB" />
<circle cx="72.19" cy="170.88" r="0.75" fill="#ABABAB" />
<circle cx="106.58" cy="170.21" r="0.75" fill="#ABABAB" />
<circle cx="98.9" cy="172.65" r="0.75" fill="#ABABAB" />
<circle cx="88.55" cy="171.51" r="0.75" fill="#ABABAB" />
<circle cx="98.5" cy="171.9" r="0.75" fill="#ABABAB" />
<circle cx="101.19" cy="169.33" r="0.75" fill="#ABABAB" />
<circle cx="76.47" cy="170.24" r="0.75" fill="#ABABAB" />
<circle cx="106.37" cy="171.6" r="0.75" fill="#ABABAB" />
<circle cx="91.88" cy="169.12" r="0.75" fill="#ABABAB" />
<circle cx="69.19" cy="170.36" r="0.75" fill="#ABABAB" />
<circle cx="75.36" cy="169.76" r="0.75" fill="#ABABAB" />
<circle cx="114.52" cy="170.71" r="0.75" fill="#ABABAB" />
<circle cx="72.35" cy="170.38" r="0.75" fill="#ABABAB" />
<circle cx="94.45" cy="170.44" r="0.75" fill="#ABABAB" />
<circle cx="93" cy="170.8" r="0.75" fill="#ABABAB" />
<circle cx="108.92" cy="170.93" r="0.75" fill="#ABABAB" />
<circle cx="87.89" cy="169.24" r="0.75" fill="#ABABAB" />
<circle cx="77.83" cy="170.17" r="0.75" fill="#ABABAB" />
<circle cx="86.99" cy="170.06" r="0.75" fill="#ABABAB" />
<circle cx="73.42" cy="169.05" r="0.75" fill="#ABABAB" />
<circle cx="85.13" cy="173.08" r="0.75" fill="#ABABAB" />
<circle cx="81.06" cy="171.39" r="0.75" fill="#ABABAB" />
<circle cx="67.94" cy="170.68" r="0.75" fill="#ABABAB" />
<circle cx="88.4" cy="170.39" r="0.75" fill="#ABABAB" />
<circle cx="84.96" cy="172.17" r="0.75" fill="#ABABAB" />
<circle cx="78.55" cy="169.97" r="0.75" fill="#ABABAB" />
<circle cx="114.49" cy="170.69" r="0.75" fill="#ABABAB" />
<circle cx="78.27" cy="169.74" r="0.75" fill="#ABABAB" />
<circle cx="86.97" cy="172.53" r="0.75" fill="#ABABAB" />
<circle cx="73.77" cy="169.75" r="0.75" fill="#ABABAB" />
<circle cx="107.94" cy="170.5" r="0.75" fill="#ABABAB" />
<circle cx="90.84" cy="171.1" r="0.75" fill="#ABABAB" />
<circle cx="78.63" cy="169.14" r="0.75" fill="#ABABAB" />
<circle cx="85.01" cy="170.56" r="0.75" fill="#ABABAB" />
<circle cx="108.4" cy="169.75" r="0.75" fill="#ABABAB" />
<circle cx="90.79" cy="172.39" r="0.75" fill="#ABABAB" />
<circle cx="94.82" cy="173.49" r="0.75" fill="#ABABAB" />
<circle cx="109.16" cy="171.59" r="0.75" fill="#ABABAB" />
<circle cx="110.01" cy="171.89" r="0.75" fill="#ABABAB" />
<circle cx="86.17" cy="172.29" r="0.75" fill="#ABABAB" />
<circle cx="88.68" cy="172.76" r="0.75" fill="#ABABAB" />
<circle cx="67.41" cy="169.79" r="0.75" fill="#ABABAB" />
<circle cx="81.4" cy="172.03" r="0.75" fill="#ABABAB" />
<circle cx="82.44" cy="171.13" r="0.75" fill="#ABABAB" />
<circle cx="88.8" cy="170.68" r="0.75" fill="#ABABAB" />
<circle cx="100.39" cy="172.03" r="0.75" fill="#ABABAB" />
<circle cx="113.93" cy="169.53" r="0.75" fill="#ABABAB" />
<circle cx="70.14" cy="169.53" r="0.75" fill="#ABABAB" />
<circle cx="112.78" cy="169.8" r="0.75" fill="#ABABAB" />
<circle cx="74.33" cy="169.58" r="0.75" fill="#ABABAB" />
<circle cx="99.08" cy="173.78" r="0.75" fill="#ABABAB" />
<circle cx="67.85" cy="169.14" r="0.75" fill="#ABABAB" />
<circle cx="100.23" cy="172.57" r="0.75" fill="#ABABAB" />
<circle cx="72.38" cy="171.79" r="0.75" fill="#ABABAB" />
<circle cx="79.01" cy="169.85" r="0.75" fill="#ABABAB" />
<circle cx="84.68" cy="172.63" r="0.75" fill="#ABABAB" />
<circle cx="112.69" cy="169.77" r="0.75" fill="#ABABAB" />
<circle cx="75.71" cy="169.38" r="0.75" fill="#ABABAB" />
<circle cx="97.84" cy="170.09" r="0.75" fill="#ABABAB" />
<circle cx="100.85" cy="169.5" r="0.75" fill="#ABABAB" />
<circle cx="106.86" cy="169.68" r="0.75" fill="#ABABAB" />
<circle cx="77.19" cy="170.12" r="0.75" fill="#ABABAB" />
<circle cx="93.94" cy="170.31" r="0.75" fill="#ABABAB" />
<circle cx="89.31" cy="169.55" r="0.75" fill="#ABABAB" />
<circle cx="95.16" cy="172.8" r="0.75" fill="#ABABAB" />
<circle cx="79.04" cy="172.28" r="0.75" fill="#ABABAB" />
<circle cx="92.04" cy="173.62" r="0.75" fill="#ABABAB" />
<circle cx="90.74" cy="173.1" r="0.75" fill="#ABABAB" />
<circle cx="91.96" cy="171.46" r="0.75" fill="#ABABAB" />
<circle cx="94.38" cy="169.7" r="0.75" fill="#ABABAB" />
<circle cx="67.61" cy="169.45" r="0.75" fill="#ABABAB" />
<circle cx="90.78" cy="171.1" r="0.75" fill="#ABABAB" />
<circle cx="100.7" cy="169.75" r="0.75" fill="#ABABAB" />
<circle cx="86.11" cy="171.56" r="0.75" fill="#ABABAB" />
<circle cx="115.53" cy="172.22" r="0.75" fill="#ABABAB" />
<circle cx="99.28" cy="170.76" r="0.75" fill="#ABABAB" />
<circle cx="68.71" cy="170.15" r="0.75" fill="#ABABAB" />
<circle cx="101.56" cy="169.32" r="0.75" fill="#ABABAB" />
<circle cx="83.88" cy="169.08" r="0.75" fill="#ABABAB" />
<circle cx="92.93" cy="171.56" r="0.75" fill="#ABABAB" />
<circle cx="112.36" cy="172.62" r="0.75" fill="#ABABAB" />
<circle cx="103.35" cy="170.69" r="0.75" fill="#ABABAB" />
<circle cx="84.28" cy="169.59" r="0.75" fill="#ABABAB" />
<circle cx="85.67" cy="171.3" r="0.75" fill="#ABABAB" />
<circle cx="93.67" cy="170.16" r="0.75" fill="#ABABAB" />
<circle cx="77.86" cy="171.1" r="0.75" fill="#ABABAB" />
<circle cx="88.49" cy="171.05" r="0.75" fill="#ABABAB" />
<circle cx="108.8" cy="171.86" r="0.75" fill="#ABABAB" />
<circle cx="108.85" cy="171.41" r="0.75" fill="#ABABAB" />
<circle cx="92.58" cy="172.6" r="0.75" fill="#ABABAB" />
<circle cx="92.71" cy="169.12" r="0.75" fill="#ABABAB" />
<circle cx="100.16" cy="169.99" r="0.75" fill="#ABABAB" />
<circle cx="83.9" cy="171.88" r="0.75" fill="#ABABAB" />
<circle cx="82.31" cy="170.69" r="0.75" fill="#ABABAB" />
<circle cx="99.16" cy="170.05" r="0.75" fill="#ABABAB" />
<circle cx="69.29" cy="169.83" r="0.75" fill="#ABABAB" />
<circle cx="111.76" cy="170.72" r="0.75" fill="#ABABAB" />
<circle cx="69.77" cy="171.12" r="0.75" fill="#ABABAB" />
<circle cx="67.59" cy="171.31" r="0.75" fill="#ABABAB" />
<circle cx="113.56" cy="170.43" r="0.75" fill="#ABABAB" />
<circle cx="100.33" cy="170" r="0.75" fill="#ABABAB" />
<circle cx="112.98" cy="170.43" r="0.75" fill="#ABABAB" />
<circle cx="98.25" cy="170.84" r="0.75" fill="#ABABAB" />
<circle cx="102.26" cy="170.85" r="0.75" fill="#ABABAB" />
<circle cx="101.48" cy="172.67" r="0.75" fill="#ABABAB" />
<circle cx="100.78" cy="171.56" r="0.75" fill="#ABABAB" />
<circle cx="105.59" cy="172.87" r="0.75" fill="#ABABAB" />
<circle cx="76.38" cy="172.46" r="0.75" fill="#ABABAB" />
<circle cx="106.18" cy="169.37" r="0.75" fill="#ABABAB" />
<circle cx="100.21" cy="172.01" r="0.75" fill="#ABABAB" />
<circle cx="108.6" cy="169.87" r="0.75" fill="#ABABAB" />
<circle cx="95.51" cy="172.83" r="0.75" fill="#ABABAB" />
<circle cx="82.45" cy="171.37" r="0.75" fill="#ABABAB" />
<circle cx="83.27" cy="171.37" r="0.75" fill="#ABABAB" />
<circle cx="99.51" cy="169.32" r="0.75" fill="#ABABAB" />
<circle cx="70.02" cy="170.32" r="0.75" fill="#ABABAB" />
<circle cx="69.25" cy="171.64" r="0.75" fill="#ABABAB" />
<circle cx="107.98" cy="170.75" r="0.75" fill="#ABABAB" />
<circle cx="113.42" cy="171.02" r="0.75" fill="#ABABAB" />
<circle cx="67.99" cy="170.77" r="0.75" fill="#ABABAB" />
<circle cx="97.01" cy="169.31" r="0.75" fill="#ABABAB" />
<circle cx="116.54" cy="170.78" r="0.75" fill="#ABABAB" />
<circle cx="87.99" cy="173.1" r="0.75" fill="#ABABAB" />
<circle cx="99.65" cy="172.79" r="0.75" fill="#ABABAB" />
<circle cx="74.9" cy="172.41" r="0.75" fill="#ABABAB" />
<circle cx="67.52" cy="169.9" r="0.75" fill="#ABABAB" />
<circle cx="73.39" cy="169.11" r="0.75" fill="#ABABAB" />
<circle cx="71.7" cy="169.42" r="0.75" fill="#ABABAB" />
<circle cx="73.75" cy="172.31" r="0.75" fill="#ABABAB" />
<circle cx="103.41" cy="172.41" r="0.75" fill="#ABABAB" />
<circle cx="104.12" cy="172.6" r="0.75" fill="#ABABAB" />
<circle cx="69.79" cy="169.69" r="0.75" fill="#ABABAB" />
<circle cx="103.12" cy="169.65" r="0.75" fill="#ABABAB" />
<circle cx="103.93" cy="173.08" r="0.75" fill="#ABABAB" />
<circle cx="98.85" cy="170.42" r="0.75" fill="#ABABAB" />
<circle cx="90.41" cy="169.32" r="0.75" fill="#ABABAB" />
<circle cx="80.04" cy="169.14" r="0.75" fill="#ABABAB" />
<circle cx="103.3" cy="173.45" r="0.75" fill="#ABABAB" />
<circle cx="68.02" cy="170.01" r="0.75" fill="#ABABAB" />
<circle cx="108.33" cy="172.76" r="0.75" fill="#ABABAB" />
<circle cx="82.9" cy="170.12" r="0.75" fill="#ABABAB" />
<circle cx="75.61" cy="169.49" r="0.75" fill="#ABABAB" />
<circle cx="91.71" cy="173.58" r="0.75" fill="#ABABAB" />
<circle cx="85.74" cy="170.86" r="0.75" fill="#ABABAB" />
<circle cx="89.31" cy="170.51" r="0.75" fill="#ABABAB" />
<circle cx="74.55" cy="169.7" r="0.75" fill="#ABABAB" />
<circle cx="85.52" cy="170.55" r="0.75" fill="#ABABAB" />
<circle cx="98.91" cy="171.84" r="0.75" fill="#ABABAB" />
<circle cx="86.65" cy="169.95" r="0.75" fill="#ABABAB" />
<circle cx="114.74" cy="169.76" r="0.75" fill="#ABABAB" />
<circle cx="95.75" cy="172.63" r="0.75" fill="#ABABAB" />
<circle cx="70.32" cy="169.08" r="0.75" fill="#ABABAB" />
<circle cx="102.6" cy="169.79" r="0.75" fill="#ABABAB" />
<circle cx="83.96" cy="170.67" r="0.75" fill="#ABABAB" />
<circle cx="116.38" cy="169.57" r="0.75" fill="#ABABAB" />
<circle cx="97.47" cy="172.45" r="0.75" fill="#ABABAB" />
<circle cx="88.8" cy="169.52" r="0.75" fill="#ABABAB" />
<circle cx="86.2" cy="170.39" r="0.75" fill="#ABABAB" />
<circle cx="97.5" cy="169.52" r="0.75" fill="#ABABAB" />
<circle cx="107.84" cy="171.95" r="0.75" fill="#ABABAB" />
<circle cx="67.36" cy="171.09" r="0.75" fill="#ABABAB" />
<circle cx="88.5" cy="170.9" r="0.75" fill="#ABABAB" />
<circle cx="108.26" cy="169.46" r="0.75" fill="#ABABAB" />
<circle cx="69.4" cy="169.5" r="0.75" fill="#ABABAB" />
<circle cx="108.05" cy="169.55" r="0.75" fill="#ABABAB" />
<circle cx="96" cy="172.71" r="0.75" fill="#ABABAB" />
<circle cx="110.03" cy="169.76" r="0.75" fill="#ABABAB" />
<circle cx="101.67" cy="169.4" r="0.75" fill="#ABABAB" />
<circle cx="84.7" cy="172.92" r="0.75" fill="#ABABAB" />
<circle cx="95.09" cy="170.05" r="0.75" fill="#ABABAB" />
<circle cx="77.34" cy="169.92" r="0.75" fill="#ABABAB" />
<circle cx="114.08" cy="171.76" r="0.75" fill="#ABABAB" />
<circle cx="97.76" cy="170.6" r="0.75" fill="#ABABAB" />
<circle cx="90.65" cy="172.8" r="0.75" fill="#ABABAB" />
<circle cx="80.07" cy="169.97" r="0.75" fill="#ABABAB" />
<circle cx="107.04" cy="171.26" r="0.75" fill="#ABABAB" />
<circle cx="71.68" cy="169.62" r="0.75" fill="#ABABAB" />
<circle cx="106.06" cy="172.28" r="0.75" fill="#ABABAB" />
<circle cx="96.39" cy="169.52" r="0.75" fill="#ABABAB" />
<circle cx="111.74" cy="170.82" r="0.75" fill="#ABABAB" />
<circle cx="91.22" cy="170.98" r="0.75" fill="#ABABAB" />
<circle cx="76.78" cy="171.93" r="0.75" fill="#ABABAB" />
<circle cx="76.35" cy="170.07" r="0.75" fill="#ABABAB" />
<circle cx="85.5" cy="170.9" r="0.75" fill="#ABABAB" />
<circle cx="87.49" cy="171.18" r="0.75" fill="#ABABAB" />
<circle cx="74.76" cy="172.3" r="0.75" fill="#ABABAB" />
<circle cx="117.36" cy="171.08" r="0.75" fill="#ABABAB" />
<circle cx="72.61" cy="170.2" r="0.75" fill="#ABABAB" />
<circle cx="106.83" cy="172.55" r="0.75" fill="#ABABAB" />
<circle cx="97.28" cy="172.28" r="0.75" fill="#ABABAB" />
<circle cx="93.37" cy="173.91" r="0.75" fill="#ABABAB" />
<circle cx="68.96" cy="169.03" r="0.75" fill="#ABABAB" />
<circle cx="110.78" cy="170.99" r="0.75" fill="#ABABAB" />
<circle cx="95.77" cy="172.79" r="0.75" fill="#ABABAB" />
<circle cx="106.42" cy="171.44" r="0.75" fill="#ABABAB" />
<circle cx="114.82" cy="169.82" r="0.75" fill="#ABABAB" />
<circle cx="108.41" cy="169.15" r="0.75" fill="#ABABAB" />
<circle cx="80.03" cy="172.75" r="0.75" fill="#ABABAB" />
<circle cx="77.37" cy="172.01" r="0.75" fill="#ABABAB" />
<circle cx="71.48" cy="172.02" r="0.75" fill="#ABABAB" />
<circle cx="95.27" cy="169.67" r="0.75" fill="#ABABAB" />
<circle cx="90.3" cy="169.25" r="0.75" fill="#ABABAB" />
<circle cx="112.98" cy="172.45" r="0.75" fill="#ABABAB" />
<circle cx="97.32" cy="172.02" r="0.75" fill="#ABABAB" />
<circle cx="73.3" cy="169.14" r="0.75" fill="#ABABAB" />
<circle cx="80.2" cy="170.7" r="0.75" fill="#ABABAB" />
<circle cx="99.46" cy="169.21" r="0.75" fill="#ABABAB" />
<circle cx="100.92" cy="171.85" r="0.75" fill="#ABABAB" />
<circle cx="89.8" cy="172.96" r="0.75" fill="#ABABAB" />
<circle cx="115.79" cy="169.03" r="0.75" fill="#ABABAB" />
<circle cx="78.41" cy="172.61" r="0.75" fill="#ABABAB" />
<circle cx="80.13" cy="171.53" r="0.75" fill="#ABABAB" />
<circle cx="112.62" cy="169.36" r="0.75" fill="#ABABAB" />
<circle cx="109.33" cy="172.81" r="0.75" fill="#ABABAB" />
<circle cx="106.78" cy="170.22" r="0.75" fill="#ABABAB" />
<circle cx="99.76" cy="169.07" r="0.75" fill="#ABABAB" />
<circle cx="70.08" cy="171.62" r="0.75" fill="#ABABAB" />
<circle cx="105.2" cy="169.26" r="0.75" fill="#ABABAB" />
<circle cx="101.28" cy="172.28" r="0.75" fill="#ABABAB" />
<circle cx="96.99" cy="170.22" r="0.75" fill="#ABABAB" />
<circle cx="72.57" cy="171.21" r="0.75" fill="#ABABAB" />
<circle cx="80.19" cy="172.42" r="0.75" fill="#ABABAB" />
<circle cx="91.45" cy="173.04" r="0.75" fill="#ABABAB" />
<circle cx="79.25" cy="172.28" r="0.75" fill="#ABABAB" />
<circle cx="101.32" cy="173.61" r="0.75" fill="#ABABAB" />
<circle cx="103.3" cy="172.62" r="0.75" fill="#ABABAB" />
<circle cx="69.08" cy="169.22" r="0.75" fill="#ABABAB" />
<circle cx="78.35" cy="169.25" r="0.75" fill="#ABABAB" />
<circle cx="110.81" cy="169.43" r="0.75" fill="#ABABAB" />
<circle cx="74.3" cy="170.89" r="0.75" fill="#ABABAB" />
<circle cx="72.15" cy="169.23" r="0.75" fill="#ABABAB" />
<circle cx="109.58" cy="170.48" r="0.75" fill="#ABABAB" />
<circle cx="90" cy="172.12" r="0.75" fill="#ABABAB" />
<circle cx="108.62" cy="171.12" r="0.75" fill="#ABABAB" />
<circle cx="98.83" cy="173.18" r="0.75" fill="#ABABAB" />
<circle cx="78.41" cy="172.55" r="0.75" fill="#ABABAB" />
<circle cx="103.13" cy="171.02" r="0.75" fill="#ABABAB" />
<circle cx="74.55" cy="169.44" r="0.75" fill="#ABABAB" />
<circle cx="80.66" cy="171.32" r="0.75" fill="#ABABAB" />
<circle cx="75.1" cy="171.54" r="0.75" fill="#ABABAB" />
<circle cx="109.45" cy="171.65" r="0.75" fill="#ABABAB" />
<circle cx="75.7" cy="170.8" r="0.75" fill="#ABABAB" />
<circle cx="83.25" cy="169.4" r="0.75" fill="#ABABAB" />
<circle cx="73.01" cy="169.07" r="0.75" fill="#ABABAB" />
<circle cx="70.13" cy="169.32" r="0.75" fill="#ABABAB" />
<circle cx="100.85" cy="172.71" r="0.75" fill="#ABABAB" />
<circle cx="91.26" cy="172.45" r="0.75" fill="#ABABAB" />
<circle cx="80.23" cy="172.12" r="0.75" fill="#ABABAB" />
<circle cx="85.57" cy="169.04" r="0.75" fill="#ABABAB" />
<circle cx="117.41" cy="169.25" r="0.75" fill="#ABABAB" />
<circle cx="72.18" cy="171.3" r="0.75" fill="#ABABAB" />
<circle cx="112.29" cy="172.53" r="0.75" fill="#ABABAB" />
<circle cx="103.77" cy="172.15" r="0.75" fill="#ABABAB" />
<circle cx="116.43" cy="172.35" r="0.75" fill="#ABABAB" />
<circle cx="107.81" cy="171.72" r="0.75" fill="#ABABAB" />
<circle cx="74.32" cy="172.41" r="0.75" fill="#ABABAB" />
<circle cx="109.08" cy="170.9" r="0.75" fill="#ABABAB" />
<circle cx="76.61" cy="171.04" r="0.75" fill="#ABABAB" />
<circle cx="113.09" cy="171.88" r="0.75" fill="#ABABAB" />
<circle cx="95.98" cy="173.41" r="0.75" fill="#ABABAB" />
<circle cx="76.32" cy="169.82" r="0.75" fill="#ABABAB" />
<circle cx="103.02" cy="172.64" r="0.75" fill="#ABABAB" />
<circle cx="71.26" cy="171.88" r="0.75" fill="#ABABAB" />
<circle cx="97.84" cy="171.5" r="0.75" fill="#ABABAB" />
<circle cx="81.03" cy="172.16" r="0.75" fill="#ABABAB" />
<circle cx="98.04" cy="170.44" r="0.75" fill="#ABABAB" />
<circle cx="108.04" cy="170.71" r="0.75" fill="#ABABAB" />
<circle cx="77.44" cy="172.44" r="0.75" fill="#ABABAB" />
<circle cx="104.08" cy="171.63" r="0.75" fill="#ABABAB" />
<circle cx="103.53" cy="173.24" r="0.75" fill="#ABABAB" />
<circle cx="108" cy="171.73" r="0.75" fill="#ABABAB" />
<circle cx="109.57" cy="169.54" r="0.75" fill="#ABABAB" />
<circle cx="92.04" cy="173.83" r="0.75" fill="#ABABAB" />
<circle cx="113" cy="170.93" r="0.75" fill="#ABABAB" />
<circle cx="111.08" cy="171.83" r="0.75" fill="#ABABAB" />
<circle cx="76.62" cy="169.61" r="0.75" fill="#ABABAB" />
<circle cx="85.72" cy="172.66" r="0.75" fill="#ABABAB" />
<circle cx="85.92" cy="170.78" r="0.75" fill="#ABABAB" />
<circle cx="67.51" cy="170.37" r="0.75" fill="#ABABAB" />
<circle cx="89.67" cy="171.28" r="0.75" fill="#ABABAB" />
<circle cx="73.34" cy="169.95" r="0.75" fill="#ABABAB" />
<circle cx="108.29" cy="169.55" r="0.75" fill="#ABABAB" />
<circle cx="83.4" cy="170.21" r="0.75" fill="#ABABAB" />
<circle cx="86.43" cy="170.1" r="0.75" fill="#ABABAB" />
<circle cx="70.35" cy="169.39" r="0.75" fill="#ABABAB" />
<circle cx="115.2" cy="170.77" r="0.75" fill="#ABABAB" />
<circle cx="93.06" cy="171.34" r="0.75" fill="#ABABAB" />
<circle cx="94.27" cy="173.98" r="0.75" fill="#ABABAB" />
<circle cx="115.87" cy="171.68" r="0.75" fill="#ABABAB" />
<circle cx="76.44" cy="172.23" r="0.75" fill="#ABABAB" />
<circle cx="79.86" cy="169.71" r="0.75" fill="#ABABAB" />
<circle cx="68.79" cy="171.67" r="0.75" fill="#ABABAB" />
<circle cx="102.39" cy="172.69" r="0.75" fill="#ABABAB" />
<circle cx="68.16" cy="170.16" r="0.75" fill="#ABABAB" />
<circle cx="96.23" cy="171.43" r="0.75" fill="#ABABAB" />
<circle cx="102.57" cy="173.09" r="0.75" fill="#ABABAB" />
<circle cx="110.95" cy="170.09" r="0.75" fill="#ABABAB" />
<circle cx="69.55" cy="171.65" r="0.75" fill="#ABABAB" />
<circle cx="92.07" cy="171.45" r="0.75" fill="#ABABAB" />
<circle cx="81.32" cy="172.52" r="0.75" fill="#ABABAB" />
<circle cx="87.65" cy="172.91" r="0.75" fill="#ABABAB" />
<circle cx="97" cy="169.7" r="0.75" fill="#ABABAB" />
<circle cx="74.67" cy="170.47" r="0.75" fill="#ABABAB" />
<circle cx="104.78" cy="172.66" r="0.75" fill="#ABABAB" />
<circle cx="108.77" cy="169.25" r="0.75" fill="#ABABAB" />
<circle cx="86.8" cy="171.59" r="0.75" fill="#ABABAB" />
<circle cx="109.46" cy="170.89" r="0.75" fill="#ABABAB" />
<circle cx="87.15" cy="169.26" r="0.75" fill="#ABABAB" />
<circle cx="106.3" cy="171.81" r="0.75" fill="#ABABAB" />
<circle cx="79.35" cy="171.55" r="0.75" fill="#ABABAB" />
<circle cx="89.16" cy="169.09" r="0.75" fill="#ABABAB" />
<circle cx="107.68" cy="169.36" r="0.75" fill="#ABABAB" />
<circle cx="108.22" cy="169.62" r="0.75" fill="#ABABAB" />
<circle cx="69.97" cy="170.47" r="0.75" fill="#ABABAB" />
<circle cx="115.39" cy="169.23" r="0.75" fill="#ABABAB" />
<circle cx="79.8" cy="171.24" r="0.75" fill="#ABABAB" />
<circle cx="99.06" cy="172.09" r="0.75" fill="#ABABAB" />
<circle cx="93.94" cy="173.71" r="0.75" fill="#ABABAB" />
<circle cx="89.03" cy="171.3" r="0.75" fill="#ABABAB" />
<circle cx="68.32" cy="171.51" r="0.75" fill="#ABABAB" />
<circle cx="115.99" cy="169.77" r="0.75" fill="#ABABAB" />
<circle cx="114.34" cy="170.31" r="0.75" fill="#ABABAB" />
<circle cx="107.93" cy="169.48" r="0.75" fill="#ABABAB" />
<circle cx="111.71" cy="172.67" r="0.75" fill="#ABABAB" />
<circle cx="124" cy="172" r="0.7" fill="#ABABAB" />
<circle cx="129" cy="173" r="0.7" fill="#ABABAB" />
<circle cx="134" cy="173" r="0.7" fill="#ABABAB" />
<circle cx="135.9" cy="169.6" r="0.7" fill="#ABABAB" />
<circle cx="120.5" cy="171.5" r="0.7" fill="#ABABAB" />
<circle cx="126.5" cy="170.5" r="0.7" fill="#ABABAB" />
<circle cx="118.5" cy="173" r="0.7" fill="#ABABAB" />
<circle cx="97.77" cy="168.16" r="0.75" fill="#ABABAB" />
<circle cx="97.99" cy="168.16" r="0.75" fill="#ABABAB" />
<circle cx="97.16" cy="163.38" r="0.75" fill="#ABABAB" />
<circle cx="97.64" cy="168.2" r="0.75" fill="#ABABAB" />
<circle cx="97.02" cy="167.39" r="0.75" fill="#ABABAB" />
<circle cx="99.66" cy="168.25" r="0.75" fill="#ABABAB" />
<circle cx="95.71" cy="166.4" r="0.75" fill="#ABABAB" />
<circle cx="94.58" cy="167.13" r="0.75" fill="#ABABAB" />
<circle cx="99.69" cy="167.61" r="0.75" fill="#ABABAB" />
<circle cx="95.48" cy="167.48" r="0.75" fill="#ABABAB" />
<circle cx="97.11" cy="168.42" r="0.75" fill="#ABABAB" />
<circle cx="94.6" cy="168.48" r="0.75" fill="#ABABAB" />
<circle cx="95.64" cy="167.71" r="0.75" fill="#ABABAB" />
<circle cx="95.6" cy="168.25" r="0.75" fill="#ABABAB" />
<circle cx="94.38" cy="167.41" r="0.75" fill="#ABABAB" />
<circle cx="98.98" cy="166.96" r="0.75" fill="#ABABAB" />
<circle cx="97.33" cy="166.06" r="0.75" fill="#ABABAB" />
<circle cx="95.07" cy="166.27" r="0.75" fill="#ABABAB" />
<circle cx="96.66" cy="166.73" r="0.75" fill="#ABABAB" />
<circle cx="97.59" cy="167.31" r="0.75" fill="#ABABAB" />
<circle cx="95.74" cy="168.25" r="0.75" fill="#ABABAB" />
<circle cx="95.2" cy="167.33" r="0.75" fill="#ABABAB" />
<circle cx="96.19" cy="166.63" r="0.75" fill="#ABABAB" />
<circle cx="93.91" cy="168.13" r="0.75" fill="#ABABAB" />
<circle cx="99.11" cy="168.31" r="0.75" fill="#ABABAB" />
<circle cx="97.25" cy="167.11" r="0.75" fill="#ABABAB" />
<circle cx="95.58" cy="163.66" r="0.75" fill="#ABABAB" />
<circle cx="95.65" cy="165.52" r="0.75" fill="#ABABAB" />
<circle cx="94.81" cy="168.53" r="0.75" fill="#ABABAB" />
<circle cx="99.17" cy="167.76" r="0.75" fill="#ABABAB" />
<circle cx="94.22" cy="168" r="0.75" fill="#ABABAB" />
<circle cx="96.53" cy="165.34" r="0.75" fill="#ABABAB" />
<circle cx="94.51" cy="168.35" r="0.75" fill="#ABABAB" />
<circle cx="99.71" cy="166.61" r="0.75" fill="#ABABAB" />
<circle cx="94.79" cy="168.07" r="0.75" fill="#ABABAB" />
<circle cx="96" cy="166.08" r="0.75" fill="#ABABAB" />
<circle cx="97.61" cy="164.5" r="0.75" fill="#ABABAB" />
<circle cx="98.87" cy="167.38" r="0.75" fill="#ABABAB" />
<circle cx="98.36" cy="165.86" r="0.75" fill="#ABABAB" />
<circle cx="98.49" cy="167.48" r="0.75" fill="#ABABAB" />
<line x1="31.1" y1="168.4" x2="201.4" y2="168.4" stroke="#3A3A3A" stroke-width="0.75" stroke-dasharray="2.4,1.8"/>
<circle cx="68.84" cy="160.04" r="0.9" fill="#4A73C0" />
<circle cx="63.41" cy="168.14" r="0.9" fill="#4A73C0" />
<circle cx="65.27" cy="168.46" r="0.9" fill="#4A73C0" />
<circle cx="69.62" cy="162.59" r="0.9" fill="#4A73C0" />
<circle cx="79.86" cy="153.39" r="0.9" fill="#4A73C0" />
<circle cx="77.17" cy="165.37" r="0.9" fill="#4A73C0" />
<circle cx="68.89" cy="155.95" r="0.9" fill="#4A73C0" />
<circle cx="75.84" cy="165.89" r="0.9" fill="#4A73C0" />
<circle cx="81.47" cy="164.79" r="0.9" fill="#4A73C0" />
<circle cx="71.34" cy="166.89" r="0.9" fill="#4A73C0" />
<circle cx="83.56" cy="163.16" r="0.9" fill="#4A73C0" />
<circle cx="83.76" cy="166.58" r="0.9" fill="#4A73C0" />
<circle cx="68.75" cy="156.58" r="0.9" fill="#4A73C0" />
<circle cx="79.8" cy="165" r="0.9" fill="#4A73C0" />
<circle cx="89.77" cy="167.53" r="0.9" fill="#4A73C0" />
<circle cx="90.77" cy="165.76" r="0.9" fill="#4A73C0" />
<circle cx="76.81" cy="168.3" r="0.9" fill="#4A73C0" />
<circle cx="63.18" cy="166.56" r="0.9" fill="#4A73C0" />
<circle cx="66.42" cy="156.88" r="0.9" fill="#4A73C0" />
<circle cx="61.51" cy="167.67" r="0.9" fill="#4A73C0" />
<circle cx="82.35" cy="154.9" r="0.9" fill="#4A73C0" />
<circle cx="93.43" cy="168.45" r="0.9" fill="#4A73C0" />
<circle cx="77.43" cy="164.16" r="0.9" fill="#4A73C0" />
<circle cx="63.17" cy="158.52" r="0.9" fill="#4A73C0" />
<circle cx="78.4" cy="152.31" r="0.9" fill="#4A73C0" />
<circle cx="79.16" cy="163.83" r="0.9" fill="#4A73C0" />
<circle cx="72.84" cy="165.76" r="0.9" fill="#4A73C0" />
<circle cx="84.63" cy="162.71" r="0.9" fill="#4A73C0" />
<circle cx="84.85" cy="154.77" r="0.9" fill="#4A73C0" />
<circle cx="73.18" cy="163.69" r="0.9" fill="#4A73C0" />
<circle cx="91.85" cy="167.48" r="0.9" fill="#4A73C0" />
<circle cx="83.22" cy="163.05" r="0.9" fill="#4A73C0" />
<circle cx="77.09" cy="155.76" r="0.9" fill="#4A73C0" />
<circle cx="61.26" cy="164.34" r="0.9" fill="#4A73C0" />
<circle cx="81.88" cy="161.84" r="0.9" fill="#4A73C0" />
<circle cx="59.88" cy="166.34" r="0.9" fill="#4A73C0" />
<circle cx="78.7" cy="157.45" r="0.9" fill="#4A73C0" />
<circle cx="90.12" cy="167.49" r="0.9" fill="#4A73C0" />
<circle cx="60.65" cy="157.19" r="0.9" fill="#4A73C0" />
<circle cx="79.34" cy="168.21" r="0.9" fill="#4A73C0" />
<circle cx="64.27" cy="160.46" r="0.9" fill="#4A73C0" />
<circle cx="67.37" cy="152.56" r="0.9" fill="#4A73C0" />
<circle cx="64.54" cy="165.33" r="0.9" fill="#4A73C0" />
<circle cx="90.49" cy="167.69" r="0.9" fill="#4A73C0" />
<circle cx="79.37" cy="164.04" r="0.9" fill="#4A73C0" />
<circle cx="89.67" cy="168.1" r="0.9" fill="#4A73C0" />
<circle cx="74.97" cy="162.26" r="0.9" fill="#4A73C0" />
<circle cx="84.78" cy="153.4" r="0.9" fill="#4A73C0" />
<circle cx="74.73" cy="168.42" r="0.9" fill="#4A73C0" />
<circle cx="82.86" cy="158.17" r="0.9" fill="#4A73C0" />
<circle cx="86.24" cy="161.82" r="0.9" fill="#4A73C0" />
<circle cx="93.49" cy="168.01" r="0.9" fill="#4A73C0" />
<circle cx="66.48" cy="162.59" r="0.9" fill="#4A73C0" />
<circle cx="73.5" cy="167.72" r="0.9" fill="#4A73C0" />
<circle cx="79.86" cy="163.2" r="0.9" fill="#4A73C0" />
<circle cx="87.47" cy="163.28" r="0.9" fill="#4A73C0" />
<circle cx="78.65" cy="152.35" r="0.9" fill="#4A73C0" />
<circle cx="77.07" cy="165.47" r="0.9" fill="#4A73C0" />
<circle cx="91.34" cy="168.25" r="0.9" fill="#4A73C0" />
<circle cx="69.87" cy="168.23" r="0.9" fill="#4A73C0" />
<circle cx="91.82" cy="168.24" r="0.9" fill="#4A73C0" />
<circle cx="78.98" cy="157.27" r="0.9" fill="#4A73C0" />
<circle cx="75.62" cy="157.69" r="0.9" fill="#4A73C0" />
<circle cx="92.61" cy="168.46" r="0.9" fill="#4A73C0" />
<circle cx="69.42" cy="166.57" r="0.9" fill="#4A73C0" />
<circle cx="71.64" cy="166.21" r="0.9" fill="#4A73C0" />
<circle cx="90.16" cy="167.77" r="0.9" fill="#4A73C0" />
<circle cx="91.84" cy="163.2" r="0.9" fill="#4A73C0" />
<circle cx="76.78" cy="166.27" r="0.9" fill="#4A73C0" />
<circle cx="81.55" cy="165.81" r="0.9" fill="#4A73C0" />
<circle cx="92.75" cy="164.27" r="0.9" fill="#4A73C0" />
<circle cx="76.77" cy="153.48" r="0.9" fill="#4A73C0" />
<circle cx="81.9" cy="161.92" r="0.9" fill="#4A73C0" />
<circle cx="87.96" cy="168.43" r="0.9" fill="#4A73C0" />
<circle cx="62.72" cy="156.44" r="0.9" fill="#4A73C0" />
<circle cx="85.99" cy="157.26" r="0.9" fill="#4A73C0" />
<circle cx="67.57" cy="166.78" r="0.9" fill="#4A73C0" />
<circle cx="76.02" cy="153.47" r="0.9" fill="#4A73C0" />
<circle cx="79.95" cy="153.77" r="0.9" fill="#4A73C0" />
<circle cx="88.15" cy="166.62" r="0.9" fill="#4A73C0" />
<circle cx="71.52" cy="167.54" r="0.9" fill="#4A73C0" />
<circle cx="86.17" cy="157.98" r="0.9" fill="#4A73C0" />
<circle cx="80.34" cy="158.04" r="0.9" fill="#4A73C0" />
<circle cx="88.13" cy="168.06" r="0.9" fill="#4A73C0" />
<circle cx="84.61" cy="167.82" r="0.9" fill="#4A73C0" />
<circle cx="60.95" cy="166.91" r="0.9" fill="#4A73C0" />
<circle cx="77.55" cy="168.19" r="0.9" fill="#4A73C0" />
<circle cx="78.57" cy="165.81" r="0.9" fill="#4A73C0" />
<circle cx="83.14" cy="168.37" r="0.9" fill="#4A73C0" />
<circle cx="91.29" cy="163.56" r="0.9" fill="#4A73C0" />
<circle cx="84.84" cy="167.41" r="0.9" fill="#4A73C0" />
<circle cx="89.58" cy="167.62" r="0.9" fill="#4A73C0" />
<circle cx="88.31" cy="168.44" r="0.9" fill="#4A73C0" />
<circle cx="73.65" cy="166.36" r="0.9" fill="#4A73C0" />
<circle cx="90.5" cy="164.31" r="0.9" fill="#4A73C0" />
<circle cx="91.98" cy="167.95" r="0.9" fill="#4A73C0" />
<circle cx="66.77" cy="168.13" r="0.9" fill="#4A73C0" />
<circle cx="81.78" cy="156.92" r="0.9" fill="#4A73C0" />
<circle cx="68.02" cy="167.97" r="0.9" fill="#4A73C0" />
<circle cx="84.79" cy="160.25" r="0.9" fill="#4A73C0" />
<circle cx="84.01" cy="153.52" r="0.9" fill="#4A73C0" />
<circle cx="89.13" cy="159.57" r="0.9" fill="#4A73C0" />
<circle cx="79.62" cy="167.49" r="0.9" fill="#4A73C0" />
<circle cx="81.45" cy="168.12" r="0.9" fill="#4A73C0" />
<circle cx="72" cy="167.2" r="0.9" fill="#4A73C0" />
<circle cx="64.05" cy="162.56" r="0.9" fill="#4A73C0" />
<circle cx="84.3" cy="167.35" r="0.9" fill="#4A73C0" />
<circle cx="75.81" cy="167.61" r="0.9" fill="#4A73C0" />
<circle cx="65.21" cy="168.16" r="0.9" fill="#4A73C0" />
<circle cx="79.32" cy="163.39" r="0.9" fill="#4A73C0" />
<circle cx="87.34" cy="161.11" r="0.9" fill="#4A73C0" />
<circle cx="83.75" cy="161.16" r="0.9" fill="#4A73C0" />
<circle cx="77.32" cy="166.7" r="0.9" fill="#4A73C0" />
<circle cx="83.58" cy="168.31" r="0.9" fill="#4A73C0" />
<circle cx="89.96" cy="162.03" r="0.9" fill="#4A73C0" />
<circle cx="85.8" cy="162.07" r="0.9" fill="#4A73C0" />
<circle cx="91.62" cy="166.24" r="0.9" fill="#4A73C0" />
<circle cx="84.51" cy="164.28" r="0.9" fill="#4A73C0" />
<circle cx="86.54" cy="168.39" r="0.9" fill="#4A73C0" />
<circle cx="86.1" cy="167.65" r="0.9" fill="#4A73C0" />
<circle cx="91.23" cy="164.67" r="0.9" fill="#4A73C0" />
<circle cx="86.99" cy="166.24" r="0.9" fill="#4A73C0" />
<circle cx="63.66" cy="158.48" r="0.9" fill="#4A73C0" />
<circle cx="64.77" cy="156.26" r="0.9" fill="#4A73C0" />
<circle cx="91.08" cy="167.82" r="0.9" fill="#4A73C0" />
<circle cx="93.17" cy="166.21" r="0.9" fill="#4A73C0" />
<circle cx="73.68" cy="166.24" r="0.9" fill="#4A73C0" />
<circle cx="82.82" cy="161.12" r="0.9" fill="#4A73C0" />
<circle cx="72.28" cy="167.31" r="0.9" fill="#4A73C0" />
<circle cx="66.29" cy="166.23" r="0.9" fill="#4A73C0" />
<circle cx="75.02" cy="167.83" r="0.9" fill="#4A73C0" />
<circle cx="91.48" cy="162.73" r="0.9" fill="#4A73C0" />
<circle cx="70.9" cy="159.95" r="0.9" fill="#4A73C0" />
<circle cx="93" cy="168.45" r="0.9" fill="#4A73C0" />
<circle cx="90.35" cy="168.08" r="0.9" fill="#4A73C0" />
<circle cx="86.36" cy="166.34" r="0.9" fill="#4A73C0" />
<circle cx="93.02" cy="167.93" r="0.9" fill="#4A73C0" />
<circle cx="74.66" cy="167.84" r="0.9" fill="#4A73C0" />
<circle cx="66.59" cy="162.89" r="0.9" fill="#4A73C0" />
<circle cx="71.59" cy="167.25" r="0.9" fill="#4A73C0" />
<circle cx="82.06" cy="160.58" r="0.9" fill="#4A73C0" />
<circle cx="84.91" cy="168.46" r="0.9" fill="#4A73C0" />
<circle cx="66.8" cy="158.44" r="0.9" fill="#4A73C0" />
<circle cx="86.87" cy="168.43" r="0.9" fill="#4A73C0" />
<circle cx="65.97" cy="162.18" r="0.9" fill="#4A73C0" />
<circle cx="92.88" cy="168.11" r="0.9" fill="#4A73C0" />
<circle cx="91.57" cy="164.16" r="0.9" fill="#4A73C0" />
<circle cx="89.07" cy="160.15" r="0.9" fill="#4A73C0" />
<circle cx="70.28" cy="168.31" r="0.9" fill="#4A73C0" />
<circle cx="72.46" cy="165.7" r="0.9" fill="#4A73C0" />
<circle cx="70.36" cy="157.12" r="0.9" fill="#4A73C0" />
<circle cx="87.02" cy="168.33" r="0.9" fill="#4A73C0" />
<circle cx="62.05" cy="165.29" r="0.9" fill="#4A73C0" />
<circle cx="62.74" cy="160.42" r="0.9" fill="#4A73C0" />
<circle cx="70.72" cy="157.09" r="0.9" fill="#4A73C0" />
<circle cx="75.05" cy="164.86" r="0.9" fill="#4A73C0" />
<circle cx="92.75" cy="165.82" r="0.9" fill="#4A73C0" />
<circle cx="82.29" cy="163.92" r="0.9" fill="#4A73C0" />
<circle cx="62.83" cy="168.14" r="0.9" fill="#4A73C0" />
<circle cx="69.78" cy="168.42" r="0.9" fill="#4A73C0" />
<circle cx="120.2" cy="143.96" r="0.95" fill="#D7302A" />
<circle cx="104.79" cy="164.28" r="0.95" fill="#D7302A" />
<circle cx="132.55" cy="143.17" r="0.95" fill="#D7302A" />
<circle cx="113.84" cy="166.04" r="0.95" fill="#D7302A" />
<circle cx="100.77" cy="167.5" r="0.95" fill="#D7302A" />
<circle cx="109.21" cy="167.25" r="0.95" fill="#D7302A" />
<circle cx="106.13" cy="167.99" r="0.95" fill="#D7302A" />
<circle cx="120.38" cy="150.4" r="0.95" fill="#D7302A" />
<circle cx="104.2" cy="167.5" r="0.95" fill="#D7302A" />
<circle cx="112.79" cy="162.41" r="0.95" fill="#D7302A" />
<circle cx="130.89" cy="159.7" r="0.95" fill="#D7302A" />
<circle cx="105.82" cy="157.69" r="0.95" fill="#D7302A" />
<circle cx="102.09" cy="165.62" r="0.95" fill="#D7302A" />
<circle cx="106.79" cy="158.03" r="0.95" fill="#D7302A" />
<circle cx="114.01" cy="152.23" r="0.95" fill="#D7302A" />
<circle cx="102.63" cy="164.26" r="0.95" fill="#D7302A" />
<circle cx="115.94" cy="160.73" r="0.95" fill="#D7302A" />
<circle cx="122.95" cy="139.54" r="0.95" fill="#D7302A" />
<circle cx="101.59" cy="167.64" r="0.95" fill="#D7302A" />
<circle cx="107.6" cy="167.37" r="0.95" fill="#D7302A" />
<circle cx="100.78" cy="167.82" r="0.95" fill="#D7302A" />
<circle cx="103.24" cy="163.37" r="0.95" fill="#D7302A" />
<circle cx="110.42" cy="167.96" r="0.95" fill="#D7302A" />
<circle cx="106.53" cy="164.5" r="0.95" fill="#D7302A" />
<circle cx="107.67" cy="167.68" r="0.95" fill="#D7302A" />
<circle cx="100.93" cy="168.46" r="0.95" fill="#D7302A" />
<circle cx="133.69" cy="134.02" r="0.95" fill="#D7302A" />
<circle cx="101.1" cy="165.04" r="0.95" fill="#D7302A" />
<circle cx="133.09" cy="147.64" r="0.95" fill="#D7302A" />
<circle cx="101.49" cy="166.5" r="0.95" fill="#D7302A" />
<circle cx="109.96" cy="167.3" r="0.95" fill="#D7302A" />
<circle cx="113.81" cy="168.45" r="0.95" fill="#D7302A" />
<circle cx="130.09" cy="144.49" r="0.95" fill="#D7302A" />
<circle cx="117.1" cy="141.15" r="0.95" fill="#D7302A" />
<circle cx="118.11" cy="165.39" r="0.95" fill="#D7302A" />
<circle cx="104.41" cy="168.07" r="0.95" fill="#D7302A" />
<circle cx="100.44" cy="165.23" r="0.95" fill="#D7302A" />
<circle cx="126.29" cy="162.8" r="0.95" fill="#D7302A" />
<circle cx="102.99" cy="164.31" r="0.95" fill="#D7302A" />
<circle cx="126.58" cy="128.77" r="0.95" fill="#D7302A" />
<circle cx="102.62" cy="162.94" r="0.95" fill="#D7302A" />
<circle cx="125.87" cy="141.9" r="0.95" fill="#D7302A" />
<circle cx="106.59" cy="167.64" r="0.95" fill="#D7302A" />
<circle cx="125.63" cy="162.15" r="0.95" fill="#D7302A" />
<circle cx="107.84" cy="162.51" r="0.95" fill="#D7302A" />
<circle cx="107.87" cy="156.47" r="0.95" fill="#D7302A" />
<circle cx="104.24" cy="168.41" r="0.95" fill="#D7302A" />
<circle cx="114.71" cy="156.24" r="0.95" fill="#D7302A" />
<circle cx="125.37" cy="144.51" r="0.95" fill="#D7302A" />
<circle cx="129.4" cy="123.5" r="0.95" fill="#D7302A" />
<circle cx="112.03" cy="161.45" r="0.95" fill="#D7302A" />
<circle cx="102.39" cy="167.43" r="0.95" fill="#D7302A" />
<circle cx="115.26" cy="168.08" r="0.95" fill="#D7302A" />
<circle cx="119.57" cy="166.87" r="0.95" fill="#D7302A" />
<circle cx="110.26" cy="149.4" r="0.95" fill="#D7302A" />
<circle cx="101.19" cy="168.43" r="0.95" fill="#D7302A" />
<circle cx="110.13" cy="167.27" r="0.95" fill="#D7302A" />
<circle cx="121.06" cy="168.46" r="0.95" fill="#D7302A" />
<circle cx="126.35" cy="134.1" r="0.95" fill="#D7302A" />
<circle cx="123.88" cy="158.86" r="0.95" fill="#D7302A" />
<circle cx="105.38" cy="162.23" r="0.95" fill="#D7302A" />
<circle cx="112.76" cy="162.96" r="0.95" fill="#D7302A" />
<circle cx="106.94" cy="164.77" r="0.95" fill="#D7302A" />
<circle cx="118.66" cy="144.61" r="0.95" fill="#D7302A" />
<circle cx="129.34" cy="166.16" r="0.95" fill="#D7302A" />
<circle cx="105.72" cy="165.17" r="0.95" fill="#D7302A" />
<circle cx="114.58" cy="164.02" r="0.95" fill="#D7302A" />
<circle cx="103.2" cy="168.32" r="0.95" fill="#D7302A" />
<circle cx="106.51" cy="164.63" r="0.95" fill="#D7302A" />
<circle cx="132.65" cy="122.14" r="0.95" fill="#D7302A" />
<circle cx="127.5" cy="123.88" r="0.95" fill="#D7302A" />
<circle cx="132.17" cy="144.61" r="0.95" fill="#D7302A" />
<circle cx="124.98" cy="168.1" r="0.95" fill="#D7302A" />
<circle cx="119.09" cy="153.97" r="0.95" fill="#D7302A" />
<circle cx="105.75" cy="163.38" r="0.95" fill="#D7302A" />
<circle cx="131.73" cy="153.18" r="0.95" fill="#D7302A" />
<circle cx="117.89" cy="164.37" r="0.95" fill="#D7302A" />
<circle cx="107.08" cy="156.1" r="0.95" fill="#D7302A" />
<circle cx="100.44" cy="168.17" r="0.95" fill="#D7302A" />
<circle cx="119.18" cy="159.85" r="0.95" fill="#D7302A" />
<circle cx="101.12" cy="165.48" r="0.95" fill="#D7302A" />
<circle cx="107.95" cy="161.89" r="0.95" fill="#D7302A" />
<circle cx="109.36" cy="162.1" r="0.95" fill="#D7302A" />
<circle cx="114.63" cy="162.9" r="0.95" fill="#D7302A" />
<circle cx="101.59" cy="168.09" r="0.95" fill="#D7302A" />
<circle cx="128.67" cy="151.05" r="0.95" fill="#D7302A" />
<circle cx="101.55" cy="163.25" r="0.95" fill="#D7302A" />
<circle cx="104.6" cy="168.25" r="0.95" fill="#D7302A" />
<circle cx="113.36" cy="166.08" r="0.95" fill="#D7302A" />
<circle cx="111.85" cy="160.2" r="0.95" fill="#D7302A" />
<circle cx="103.93" cy="164.45" r="0.95" fill="#D7302A" />
<circle cx="101.57" cy="166.3" r="0.95" fill="#D7302A" />
<circle cx="115.54" cy="168.07" r="0.95" fill="#D7302A" />
<circle cx="109.09" cy="168.24" r="0.95" fill="#D7302A" />
<circle cx="110.13" cy="152.96" r="0.95" fill="#D7302A" />
<circle cx="114.09" cy="153.79" r="0.95" fill="#D7302A" />
<circle cx="122.55" cy="167.48" r="0.95" fill="#D7302A" />
<circle cx="133.62" cy="136.3" r="0.95" fill="#D7302A" />
<circle cx="101.38" cy="163.76" r="0.95" fill="#D7302A" />
<circle cx="108.58" cy="167.59" r="0.95" fill="#D7302A" />
<circle cx="132.08" cy="148.26" r="0.95" fill="#D7302A" />
<circle cx="123.35" cy="167.09" r="0.95" fill="#D7302A" />
<circle cx="123.4" cy="168.15" r="0.95" fill="#D7302A" />
<circle cx="104.18" cy="166.46" r="0.95" fill="#D7302A" />
<circle cx="100.34" cy="166.46" r="0.95" fill="#D7302A" />
<circle cx="103.61" cy="167.19" r="0.95" fill="#D7302A" />
<circle cx="120.4" cy="160.1" r="0.95" fill="#D7302A" />
<circle cx="128.6" cy="146.97" r="0.95" fill="#D7302A" />
<circle cx="127.82" cy="150.73" r="0.95" fill="#D7302A" />
<circle cx="129.99" cy="128.6" r="0.95" fill="#D7302A" />
<circle cx="102.61" cy="163.41" r="0.95" fill="#D7302A" />
<circle cx="107.03" cy="158.9" r="0.95" fill="#D7302A" />
<circle cx="119.26" cy="143.97" r="0.95" fill="#D7302A" />
<circle cx="101.73" cy="167.15" r="0.95" fill="#D7302A" />
<circle cx="121.68" cy="134.08" r="0.95" fill="#D7302A" />
<circle cx="121.01" cy="168.28" r="0.95" fill="#D7302A" />
<circle cx="116.14" cy="167.88" r="0.95" fill="#D7302A" />
<circle cx="114.03" cy="150.64" r="0.95" fill="#D7302A" />
<circle cx="101.56" cy="162.57" r="0.95" fill="#D7302A" />
<circle cx="119.04" cy="165.18" r="0.95" fill="#D7302A" />
<circle cx="103.15" cy="166.13" r="0.95" fill="#D7302A" />
<circle cx="126.23" cy="150.71" r="0.95" fill="#D7302A" />
<circle cx="101.58" cy="168.45" r="0.95" fill="#D7302A" />
<circle cx="101.52" cy="163.9" r="0.95" fill="#D7302A" />
<circle cx="102.98" cy="165.2" r="0.95" fill="#D7302A" />
<circle cx="105.56" cy="161.66" r="0.95" fill="#D7302A" />
<circle cx="108.23" cy="167.83" r="0.95" fill="#D7302A" />
<circle cx="127.97" cy="151.94" r="0.95" fill="#D7302A" />
<circle cx="119.64" cy="144.43" r="0.95" fill="#D7302A" />
<circle cx="131.53" cy="168.42" r="0.95" fill="#D7302A" />
<circle cx="107.05" cy="167.85" r="0.95" fill="#D7302A" />
<circle cx="112.3" cy="150.02" r="0.95" fill="#D7302A" />
<circle cx="124.49" cy="168.32" r="0.95" fill="#D7302A" />
<circle cx="102.91" cy="162.21" r="0.95" fill="#D7302A" />
<circle cx="119.22" cy="161.55" r="0.95" fill="#D7302A" />
<circle cx="111.38" cy="167.51" r="0.95" fill="#D7302A" />
<circle cx="126.55" cy="159.22" r="0.95" fill="#D7302A" />
<circle cx="127.86" cy="148.07" r="0.95" fill="#D7302A" />
<circle cx="100.99" cy="167.58" r="0.95" fill="#D7302A" />
<circle cx="103.68" cy="160.21" r="0.95" fill="#D7302A" />
<circle cx="115.57" cy="168.32" r="0.95" fill="#D7302A" />
<circle cx="102.65" cy="166.98" r="0.95" fill="#D7302A" />
<circle cx="111.1" cy="160.07" r="0.95" fill="#D7302A" />
<circle cx="108.45" cy="165.5" r="0.95" fill="#D7302A" />
<circle cx="100.3" cy="166.57" r="0.95" fill="#D7302A" />
<circle cx="106.8" cy="168.44" r="0.95" fill="#D7302A" />
<circle cx="110.81" cy="148.01" r="0.95" fill="#D7302A" />
<circle cx="100.61" cy="168.26" r="0.95" fill="#D7302A" />
<circle cx="118.86" cy="164.8" r="0.95" fill="#D7302A" />
<circle cx="105.11" cy="164.71" r="0.95" fill="#D7302A" />
<circle cx="104.82" cy="163.97" r="0.95" fill="#D7302A" />
<circle cx="113.26" cy="145.54" r="0.95" fill="#D7302A" />
<circle cx="133.7" cy="168.28" r="0.95" fill="#D7302A" />
<circle cx="114.47" cy="151.39" r="0.95" fill="#D7302A" />
<circle cx="127.83" cy="137.97" r="0.95" fill="#D7302A" />
<circle cx="117.31" cy="154.18" r="0.95" fill="#D7302A" />
<circle cx="107.67" cy="166.59" r="0.95" fill="#D7302A" />
<circle cx="124.26" cy="135.44" r="0.95" fill="#D7302A" />
<circle cx="131.03" cy="141.37" r="0.95" fill="#D7302A" />
<circle cx="105.95" cy="159.96" r="0.95" fill="#D7302A" />
<circle cx="121.78" cy="156.47" r="0.95" fill="#D7302A" />
<circle cx="117.4" cy="163.24" r="0.95" fill="#D7302A" />
<circle cx="114.1" cy="162.85" r="0.95" fill="#D7302A" />
<circle cx="100.78" cy="167.59" r="0.95" fill="#D7302A" />
<circle cx="106.49" cy="154.44" r="0.95" fill="#D7302A" />
<circle cx="111.58" cy="164.43" r="0.95" fill="#D7302A" />
<circle cx="104.34" cy="167.52" r="0.95" fill="#D7302A" />
<circle cx="107.26" cy="167.94" r="0.95" fill="#D7302A" />
<circle cx="100.3" cy="164.68" r="0.95" fill="#D7302A" />
<circle cx="110.59" cy="163.25" r="0.95" fill="#D7302A" />
<circle cx="114.78" cy="164.92" r="0.95" fill="#D7302A" />
<circle cx="102.63" cy="168.38" r="0.95" fill="#D7302A" />
<circle cx="105.88" cy="166.65" r="0.95" fill="#D7302A" />
<circle cx="121.22" cy="155.04" r="0.95" fill="#D7302A" />
<circle cx="130.97" cy="160.14" r="0.95" fill="#D7302A" />
<circle cx="130.18" cy="148.18" r="0.95" fill="#D7302A" />
<circle cx="101.05" cy="168.14" r="0.95" fill="#D7302A" />
<circle cx="115.23" cy="141.31" r="0.95" fill="#D7302A" />
<circle cx="107.49" cy="158.21" r="0.95" fill="#D7302A" />
<circle cx="109.76" cy="153.27" r="0.95" fill="#D7302A" />
<circle cx="100.88" cy="166.81" r="0.95" fill="#D7302A" />
<circle cx="129.11" cy="162.97" r="0.95" fill="#D7302A" />
<circle cx="104.7" cy="168.44" r="0.95" fill="#D7302A" />
<circle cx="102.54" cy="167.58" r="0.95" fill="#D7302A" />
<circle cx="120.27" cy="165.79" r="0.95" fill="#D7302A" />
<circle cx="108.82" cy="167.3" r="0.95" fill="#D7302A" />
<circle cx="116.11" cy="145.78" r="0.95" fill="#D7302A" />
<circle cx="117.92" cy="166.45" r="0.95" fill="#D7302A" />
<circle cx="121.54" cy="133.35" r="0.95" fill="#D7302A" />
<circle cx="116.03" cy="168.07" r="0.95" fill="#D7302A" />
<circle cx="124.9" cy="134.48" r="0.95" fill="#D7302A" />
<circle cx="107.02" cy="167.95" r="0.95" fill="#D7302A" />
<circle cx="103.04" cy="165.34" r="0.95" fill="#D7302A" />
<circle cx="127.98" cy="146.31" r="0.95" fill="#D7302A" />
<circle cx="130.26" cy="164.82" r="0.95" fill="#D7302A" />
<circle cx="106.6" cy="159.61" r="0.95" fill="#D7302A" />
<circle cx="117.96" cy="161.58" r="0.95" fill="#D7302A" />
<circle cx="119.2" cy="163.12" r="0.95" fill="#D7302A" />
<circle cx="100.75" cy="167.24" r="0.95" fill="#D7302A" />
<circle cx="100.61" cy="166.09" r="0.95" fill="#D7302A" />
<circle cx="106.82" cy="163.99" r="0.95" fill="#D7302A" />
<circle cx="115.91" cy="165.6" r="0.95" fill="#D7302A" />
<circle cx="110.95" cy="168.45" r="0.95" fill="#D7302A" />
<circle cx="130.37" cy="149.18" r="0.95" fill="#D7302A" />
<circle cx="133.46" cy="168.04" r="0.95" fill="#D7302A" />
<circle cx="116.55" cy="151.27" r="0.95" fill="#D7302A" />
<circle cx="106.67" cy="168.2" r="0.95" fill="#D7302A" />
<circle cx="102.37" cy="168.17" r="0.95" fill="#D7302A" />
<circle cx="123" cy="167.8" r="0.95" fill="#D7302A" />
<circle cx="125.11" cy="158.51" r="0.95" fill="#D7302A" />
<circle cx="113.65" cy="158.19" r="0.95" fill="#D7302A" />
<circle cx="114.26" cy="155.6" r="0.95" fill="#D7302A" />
<circle cx="116.06" cy="164.04" r="0.95" fill="#D7302A" />
<circle cx="121.85" cy="164.68" r="0.95" fill="#D7302A" />
<circle cx="120.57" cy="145.76" r="0.95" fill="#D7302A" />
<circle cx="123.39" cy="162.98" r="0.95" fill="#D7302A" />
<circle cx="123.24" cy="129.94" r="0.95" fill="#D7302A" />
<circle cx="110.59" cy="166.12" r="0.95" fill="#D7302A" />
<circle cx="113.08" cy="146.44" r="0.95" fill="#D7302A" />
<circle cx="101.9" cy="168.46" r="0.95" fill="#D7302A" />
<circle cx="111.38" cy="157.83" r="0.95" fill="#D7302A" />
<circle cx="123.31" cy="161.31" r="0.95" fill="#D7302A" />
<circle cx="133.56" cy="163.93" r="0.95" fill="#D7302A" />
<circle cx="122.53" cy="167.81" r="0.95" fill="#D7302A" />
<circle cx="100.44" cy="168.3" r="0.95" fill="#D7302A" />
<circle cx="100.78" cy="166.75" r="0.95" fill="#D7302A" />
<circle cx="114.27" cy="167.01" r="0.95" fill="#D7302A" />
<circle cx="131.08" cy="159.04" r="0.95" fill="#D7302A" />
<circle cx="102.23" cy="168.05" r="0.95" fill="#D7302A" />
<circle cx="121.71" cy="135.67" r="0.95" fill="#D7302A" />
<circle cx="102.49" cy="168.44" r="0.95" fill="#D7302A" />
<circle cx="123.49" cy="164.82" r="0.95" fill="#D7302A" />
<circle cx="133.2" cy="151.49" r="0.95" fill="#D7302A" />
<circle cx="117.43" cy="163.38" r="0.95" fill="#D7302A" />
<circle cx="124.5" cy="157.24" r="0.95" fill="#D7302A" />
<circle cx="106.51" cy="156.4" r="0.95" fill="#D7302A" />
<circle cx="101.48" cy="164.57" r="0.95" fill="#D7302A" />
<circle cx="100.85" cy="165.79" r="0.95" fill="#D7302A" />
<circle cx="108.89" cy="154.43" r="0.95" fill="#D7302A" />
<circle cx="100.78" cy="166.38" r="0.95" fill="#D7302A" />
<circle cx="109.15" cy="152.53" r="0.95" fill="#D7302A" />
<circle cx="131.34" cy="144.71" r="0.95" fill="#D7302A" />
<circle cx="103.87" cy="167.48" r="0.95" fill="#D7302A" />
<circle cx="104.82" cy="165.62" r="0.95" fill="#D7302A" />
<circle cx="104.04" cy="167.76" r="0.95" fill="#D7302A" />
<circle cx="122.65" cy="150.01" r="0.95" fill="#D7302A" />
<circle cx="105.79" cy="155.37" r="0.95" fill="#D7302A" />
<circle cx="103.69" cy="164.62" r="0.95" fill="#D7302A" />
<circle cx="102.38" cy="162.25" r="0.95" fill="#D7302A" />
<circle cx="127.68" cy="163.49" r="0.95" fill="#D7302A" />
<circle cx="122.31" cy="140.74" r="0.95" fill="#D7302A" />
<circle cx="105.36" cy="166.54" r="0.95" fill="#D7302A" />
<circle cx="111.72" cy="150.11" r="0.95" fill="#D7302A" />
<circle cx="102.48" cy="164.21" r="0.95" fill="#D7302A" />
<circle cx="115.9" cy="160.97" r="0.95" fill="#D7302A" />
<circle cx="115.19" cy="146.08" r="0.95" fill="#D7302A" />
<circle cx="103.53" cy="160.57" r="0.95" fill="#D7302A" />
<circle cx="107.6" cy="157.98" r="0.95" fill="#D7302A" />
<circle cx="127.4" cy="165.89" r="0.95" fill="#D7302A" />
<circle cx="127.43" cy="122.38" r="0.95" fill="#D7302A" />
<circle cx="105.77" cy="168.44" r="0.95" fill="#D7302A" />
<circle cx="101.54" cy="162.06" r="0.95" fill="#D7302A" />
<circle cx="100.31" cy="164.36" r="0.95" fill="#D7302A" />
<circle cx="102.26" cy="163.83" r="0.95" fill="#D7302A" />
<circle cx="101.31" cy="168.15" r="0.95" fill="#D7302A" />
<circle cx="119.36" cy="167.89" r="0.95" fill="#D7302A" />
<circle cx="106.97" cy="155.45" r="0.95" fill="#D7302A" />
<circle cx="120.78" cy="139.17" r="0.95" fill="#D7302A" />
<circle cx="133.06" cy="168.29" r="0.95" fill="#D7302A" />
<circle cx="104.12" cy="161.29" r="0.95" fill="#D7302A" />
<circle cx="119.64" cy="168.33" r="0.95" fill="#D7302A" />
<circle cx="112.41" cy="166.51" r="0.95" fill="#D7302A" />
<circle cx="109.83" cy="168.04" r="0.95" fill="#D7302A" />
<circle cx="100.38" cy="163.64" r="0.95" fill="#D7302A" />
<circle cx="106.3" cy="157.22" r="0.95" fill="#D7302A" />
<circle cx="101.69" cy="166.42" r="0.95" fill="#D7302A" />
<circle cx="101.97" cy="166.72" r="0.95" fill="#D7302A" />
<circle cx="102.84" cy="163.89" r="0.95" fill="#D7302A" />
<circle cx="102.2" cy="163.86" r="0.95" fill="#D7302A" />
<circle cx="112.26" cy="167.9" r="0.95" fill="#D7302A" />
<circle cx="107.39" cy="163.7" r="0.95" fill="#D7302A" />
<circle cx="130.05" cy="160" r="0.95" fill="#D7302A" />
<circle cx="103.65" cy="159.07" r="0.95" fill="#D7302A" />
<circle cx="128.34" cy="140.32" r="0.95" fill="#D7302A" />
<circle cx="105.1" cy="167.82" r="0.95" fill="#D7302A" />
<circle cx="104.88" cy="168.33" r="0.95" fill="#D7302A" />
<circle cx="100.58" cy="166.81" r="0.95" fill="#D7302A" />
<circle cx="109.1" cy="161.7" r="0.95" fill="#D7302A" />
<circle cx="107.66" cy="168.45" r="0.95" fill="#D7302A" />
<circle cx="119.58" cy="151.78" r="0.95" fill="#D7302A" />
<circle cx="113.85" cy="159.23" r="0.95" fill="#D7302A" />
<circle cx="119.67" cy="134.93" r="0.95" fill="#D7302A" />
<circle cx="127.91" cy="141.59" r="0.95" fill="#D7302A" />
<circle cx="108.81" cy="165.91" r="0.95" fill="#D7302A" />
<circle cx="109.46" cy="150.47" r="0.95" fill="#D7302A" />
<circle cx="108.42" cy="165.05" r="0.95" fill="#D7302A" />
<circle cx="109.16" cy="167.79" r="0.95" fill="#D7302A" />
<circle cx="134.01" cy="168.45" r="0.95" fill="#D7302A" />
<circle cx="116.3" cy="142.67" r="0.95" fill="#D7302A" />
<circle cx="104.63" cy="163.52" r="0.95" fill="#D7302A" />
<circle cx="108.11" cy="166.97" r="0.95" fill="#D7302A" />
<circle cx="103.27" cy="168.22" r="0.95" fill="#D7302A" />
<circle cx="126.45" cy="138.72" r="0.95" fill="#D7302A" />
<circle cx="129.56" cy="168.16" r="0.95" fill="#D7302A" />
<circle cx="119.84" cy="163.33" r="0.95" fill="#D7302A" />
<circle cx="117.84" cy="157.01" r="0.95" fill="#D7302A" />
<circle cx="106.28" cy="155.16" r="0.95" fill="#D7302A" />
<circle cx="100.28" cy="165.57" r="0.95" fill="#D7302A" />
<circle cx="126.94" cy="153.9" r="0.95" fill="#D7302A" />
<circle cx="115.69" cy="140.27" r="0.95" fill="#D7302A" />
<circle cx="104.12" cy="163.61" r="0.95" fill="#D7302A" />
<circle cx="121.95" cy="161.15" r="0.95" fill="#D7302A" />
<circle cx="120.6" cy="161.09" r="0.95" fill="#D7302A" />
<circle cx="113.19" cy="157.76" r="0.95" fill="#D7302A" />
<circle cx="119.12" cy="163.55" r="0.95" fill="#D7302A" />
<circle cx="117.14" cy="157.6" r="0.95" fill="#D7302A" />
<circle cx="103.85" cy="164.01" r="0.95" fill="#D7302A" />
<circle cx="104.89" cy="158.4" r="0.95" fill="#D7302A" />
<circle cx="111.29" cy="156.02" r="0.95" fill="#D7302A" />
<circle cx="113.03" cy="161.55" r="0.95" fill="#D7302A" />
<circle cx="103.8" cy="168.09" r="0.95" fill="#D7302A" />
<circle cx="130.47" cy="151.14" r="0.95" fill="#D7302A" />
<circle cx="113.1" cy="160.22" r="0.95" fill="#D7302A" />
<circle cx="125.08" cy="164.71" r="0.95" fill="#D7302A" />
<circle cx="102.7" cy="162.39" r="0.95" fill="#D7302A" />
<circle cx="110.84" cy="158.62" r="0.95" fill="#D7302A" />
<circle cx="125.73" cy="132.2" r="0.95" fill="#D7302A" />
<circle cx="127.61" cy="168.24" r="0.95" fill="#D7302A" />
<circle cx="108.24" cy="156.03" r="0.95" fill="#D7302A" />
<circle cx="125.28" cy="167.23" r="0.95" fill="#D7302A" />
<circle cx="102.32" cy="167.71" r="0.95" fill="#D7302A" />
<circle cx="101.4" cy="167.34" r="0.95" fill="#D7302A" />
<circle cx="124.62" cy="154.53" r="0.95" fill="#D7302A" />
<circle cx="110.58" cy="168.13" r="0.95" fill="#D7302A" />
<circle cx="108.69" cy="150.87" r="0.95" fill="#D7302A" />
<circle cx="119.87" cy="159.51" r="0.95" fill="#D7302A" />
<circle cx="111.47" cy="153.5" r="0.95" fill="#D7302A" />
<circle cx="122.63" cy="166.91" r="0.95" fill="#D7302A" />
<circle cx="119.25" cy="162.29" r="0.95" fill="#D7302A" />
<circle cx="112.98" cy="166.35" r="0.95" fill="#D7302A" />
<circle cx="107.91" cy="165.83" r="0.95" fill="#D7302A" />
<circle cx="108.24" cy="168.44" r="0.95" fill="#D7302A" />
<circle cx="103.32" cy="164.83" r="0.95" fill="#D7302A" />
<circle cx="100.75" cy="168.17" r="0.95" fill="#D7302A" />
<circle cx="120.86" cy="164.42" r="0.95" fill="#D7302A" />
<circle cx="106.52" cy="167.18" r="0.95" fill="#D7302A" />
<circle cx="126.04" cy="167.7" r="0.95" fill="#D7302A" />
<circle cx="117.44" cy="144.43" r="0.95" fill="#D7302A" />
<circle cx="103.34" cy="166.27" r="0.95" fill="#D7302A" />
<circle cx="124.13" cy="150.2" r="0.95" fill="#D7302A" />
<circle cx="107.94" cy="168.38" r="0.95" fill="#D7302A" />
<circle cx="110.23" cy="164.81" r="0.95" fill="#D7302A" />
<circle cx="120.62" cy="163.93" r="0.95" fill="#D7302A" />
<circle cx="109.09" cy="159.71" r="0.95" fill="#D7302A" />
<circle cx="124.97" cy="161.21" r="0.95" fill="#D7302A" />
<circle cx="108.37" cy="161.68" r="0.95" fill="#D7302A" />
<circle cx="130.35" cy="165.39" r="0.95" fill="#D7302A" />
<circle cx="132.65" cy="137.87" r="0.95" fill="#D7302A" />
<circle cx="107.96" cy="160.17" r="0.95" fill="#D7302A" />
<circle cx="106.67" cy="168.3" r="0.95" fill="#D7302A" />
<circle cx="122.51" cy="160.97" r="0.95" fill="#D7302A" />
<circle cx="113.17" cy="160.99" r="0.95" fill="#D7302A" />
<circle cx="129.21" cy="137.79" r="0.95" fill="#D7302A" />
<circle cx="100.42" cy="166.42" r="0.95" fill="#D7302A" />
<circle cx="110.92" cy="162.78" r="0.95" fill="#D7302A" />
<circle cx="126.29" cy="158.43" r="0.95" fill="#D7302A" />
<circle cx="111.3" cy="150.66" r="0.95" fill="#D7302A" />
<circle cx="110.14" cy="162.51" r="0.95" fill="#D7302A" />
<circle cx="112.66" cy="151.33" r="0.95" fill="#D7302A" />
<circle cx="118.84" cy="148.49" r="0.95" fill="#D7302A" />
<circle cx="108.89" cy="168.38" r="0.95" fill="#D7302A" />
<circle cx="119.23" cy="156.05" r="0.95" fill="#D7302A" />
<circle cx="123.09" cy="142.94" r="0.95" fill="#D7302A" />
<circle cx="101.65" cy="167.93" r="0.95" fill="#D7302A" />
<circle cx="101.01" cy="164.3" r="0.95" fill="#D7302A" />
<circle cx="101.38" cy="168.36" r="0.95" fill="#D7302A" />
<circle cx="122.39" cy="153.81" r="0.95" fill="#D7302A" />
<circle cx="100.72" cy="165.64" r="0.95" fill="#D7302A" />
<circle cx="120.55" cy="158.05" r="0.95" fill="#D7302A" />
<circle cx="100.71" cy="165.57" r="0.95" fill="#D7302A" />
<circle cx="194" cy="80" r="1" fill="#D7302A" />
<circle cx="150" cy="82.6" r="1" fill="#D7302A" />
<circle cx="139.8" cy="91.8" r="1" fill="#D7302A" />
<circle cx="143.3" cy="93.5" r="1" fill="#D7302A" />
<circle cx="160.7" cy="96" r="1" fill="#D7302A" />
<circle cx="167.4" cy="94.9" r="1" fill="#D7302A" />
<circle cx="167.7" cy="101.6" r="1" fill="#D7302A" />
<circle cx="168.8" cy="106.8" r="1" fill="#D7302A" />
<circle cx="146" cy="107.5" r="1" fill="#D7302A" />
<circle cx="144.7" cy="108.9" r="1" fill="#D7302A" />
<circle cx="149.6" cy="102.6" r="1" fill="#D7302A" />
<circle cx="167.4" cy="102.1" r="1" fill="#D7302A" />
<circle cx="164.6" cy="114.4" r="1" fill="#D7302A" />
<circle cx="167" cy="113.3" r="1" fill="#D7302A" />
<circle cx="172.6" cy="115.8" r="1" fill="#D7302A" />
<circle cx="166" cy="122.3" r="1" fill="#D7302A" />
<circle cx="176.1" cy="125.8" r="1" fill="#D7302A" />
<circle cx="173.3" cy="140.8" r="1" fill="#D7302A" />
<circle cx="156.1" cy="126.5" r="1" fill="#D7302A" />
<circle cx="154.4" cy="121" r="1" fill="#D7302A" />
<circle cx="153.7" cy="119.6" r="1" fill="#D7302A" />
<circle cx="147.9" cy="116" r="1" fill="#D7302A" />
<circle cx="147.5" cy="118.9" r="1" fill="#D7302A" />
<circle cx="146.5" cy="106.3" r="1" fill="#D7302A" />
<circle cx="142.3" cy="110.9" r="1" fill="#D7302A" />
<circle cx="135.3" cy="112.6" r="1" fill="#D7302A" />
<circle cx="134.9" cy="115.6" r="1" fill="#D7302A" />
<circle cx="133.9" cy="123" r="1" fill="#D7302A" />
<circle cx="131.1" cy="126.5" r="1" fill="#D7302A" />
<circle cx="136.3" cy="128.6" r="1" fill="#D7302A" />
<circle cx="139.8" cy="125.1" r="1" fill="#D7302A" />
<circle cx="140.5" cy="126.5" r="1" fill="#D7302A" />
<circle cx="146" cy="130.4" r="1" fill="#D7302A" />
<circle cx="147.5" cy="131.4" r="1" fill="#D7302A" />
<circle cx="136.3" cy="133.2" r="1" fill="#D7302A" />
<circle cx="147.5" cy="136.6" r="1" fill="#D7302A" />
<circle cx="144" cy="145.4" r="1" fill="#D7302A" />
<circle cx="137" cy="141.2" r="1" fill="#D7302A" />
<circle cx="138.4" cy="144.7" r="1" fill="#D7302A" />
<circle cx="135.6" cy="145.4" r="1" fill="#D7302A" />
<circle cx="147.5" cy="145.4" r="1" fill="#D7302A" />
<circle cx="186.6" cy="148.2" r="1" fill="#D7302A" />
<circle cx="185.9" cy="149" r="1" fill="#D7302A" />
<circle cx="182" cy="152.7" r="1" fill="#D7302A" />
<circle cx="162.4" cy="149.7" r="1" fill="#D7302A" />
<circle cx="148.2" cy="149" r="1" fill="#D7302A" />
<circle cx="147.5" cy="158" r="1" fill="#D7302A" />
<circle cx="148.2" cy="160.8" r="1" fill="#D7302A" />
<circle cx="143.3" cy="159.4" r="1" fill="#D7302A" />
<circle cx="141.9" cy="156" r="1" fill="#D7302A" />
<circle cx="144" cy="158.5" r="1" fill="#D7302A" />
<circle cx="128.3" cy="108.2" r="1" fill="#D7302A" />
<circle cx="118.2" cy="113.8" r="1" fill="#D7302A" />
<circle cx="135.2" cy="112.3" r="1" fill="#D7302A" />
<circle cx="135" cy="115.7" r="1" fill="#D7302A" />
<circle cx="142.1" cy="111.1" r="1" fill="#D7302A" />
<circle cx="144.6" cy="109.4" r="1" fill="#D7302A" />
<circle cx="146.5" cy="107.2" r="1" fill="#D7302A" />
<circle cx="147.8" cy="116.4" r="1" fill="#D7302A" />
<circle cx="133.9" cy="122.9" r="1" fill="#D7302A" />
<circle cx="130.2" cy="123.9" r="1" fill="#D7302A" />
<circle cx="123.9" cy="126.2" r="1" fill="#D7302A" />
<circle cx="131.4" cy="127" r="1" fill="#D7302A" />
<circle cx="140.2" cy="125.2" r="1" fill="#D7302A" />
<circle cx="140.9" cy="127" r="1" fill="#D7302A" />
<circle cx="136.5" cy="128.3" r="1" fill="#D7302A" />
<circle cx="111.3" cy="129.2" r="1" fill="#D7302A" />
<circle cx="133.3" cy="130.8" r="1" fill="#D7302A" />
<circle cx="128.9" cy="132.4" r="1" fill="#D7302A" />
<circle cx="120.8" cy="132.4" r="1" fill="#D7302A" />
<circle cx="115.1" cy="133.9" r="1" fill="#D7302A" />
<circle cx="117.6" cy="135.2" r="1" fill="#D7302A" />
<circle cx="121.4" cy="135" r="1" fill="#D7302A" />
<circle cx="130.2" cy="135" r="1" fill="#D7302A" />
<circle cx="136.5" cy="133.9" r="1" fill="#D7302A" />
<circle cx="125.2" cy="136.5" r="1" fill="#D7302A" />
<circle cx="127" cy="137.7" r="1" fill="#D7302A" />
<circle cx="113.2" cy="138.3" r="1" fill="#D7302A" />
<circle cx="145.3" cy="130.8" r="1" fill="#D7302A" />
<circle cx="147.5" cy="132" r="1" fill="#D7302A" />
<circle cx="188.2" cy="23.3" r="1" fill="#D7302A" />
<circle cx="38.7" cy="87.3" r="0.85" fill="#4A73C0" />
<circle cx="43.6" cy="104.8" r="0.85" fill="#4A73C0" />
<circle cx="63.5" cy="134.5" r="0.85" fill="#4A73C0" />
<circle cx="62.2" cy="143.5" r="0.85" fill="#4A73C0" />
<circle cx="55.2" cy="145.2" r="0.85" fill="#4A73C0" />
<circle cx="57.7" cy="150" r="0.85" fill="#4A73C0" />
<circle cx="47.9" cy="153" r="0.85" fill="#4A73C0" />
<circle cx="51.8" cy="157.9" r="0.85" fill="#4A73C0" />
<circle cx="57.2" cy="150.8" r="0.85" fill="#4A73C0" />
<circle cx="44" cy="134" r="0.85" fill="#4A73C0" />
<circle cx="46" cy="133.6" r="0.85" fill="#4A73C0" />
<circle cx="48" cy="133.4" r="0.85" fill="#4A73C0" />
<circle cx="43" cy="133.8" r="0.85" fill="#4A73C0" />
<circle cx="53" cy="131.5" r="0.85" fill="#4A73C0" />
<circle cx="60.6" cy="131.3" r="0.85" fill="#4A73C0" />
<circle cx="62" cy="130.8" r="0.85" fill="#4A73C0" />
<line x1="42.5" y1="134.2" x2="56" y2="130.5" stroke="#4A73C0" stroke-width="0.5" />
<line x1="45.7" y1="171.8" x2="50.7" y2="164" stroke="#4A73C0" stroke-width="0.5" />
<line x1="51.8" y1="158.4" x2="51.8" y2="164.6" stroke="#4A73C0" stroke-width="0.5" />
<line x1="93.45" y1="17" x2="93.45" y2="181.3" stroke="#3A3A3A" stroke-width="0.75" stroke-dasharray="2.4,1.8"/>
<line x1="100.45" y1="17" x2="100.45" y2="181.3" stroke="#3A3A3A" stroke-width="0.75" stroke-dasharray="2.4,1.8"/>
<text x="42.3" y="91.67" font-size="6.6" fill="#4A73C0" textLength="21.2" lengthAdjust="spacingAndGlyphs">TRIM63</text>
<text x="41.2" y="102.47" font-size="6.6" fill="#4A73C0" textLength="16.3" lengthAdjust="spacingAndGlyphs">MSLN</text>
<text x="32.8" y="130.97" font-size="6.6" fill="#4A73C0" textLength="19" lengthAdjust="spacingAndGlyphs">FXYD4</text>
<text x="56.8" y="132.57" font-size="6.6" fill="#4A73C0" textLength="34.2" lengthAdjust="spacingAndGlyphs">AC010255.2</text>
<text x="47.3" y="141.27" font-size="6.6" fill="#4A73C0" textLength="20.2" lengthAdjust="spacingAndGlyphs">REG1B</text>
<text x="33.4" y="151.07" font-size="6.6" fill="#4A73C0" textLength="19.5" lengthAdjust="spacingAndGlyphs">NTSR2</text>
<text x="61.3" y="151.07" font-size="6.6" fill="#4A73C0" textLength="20.1" lengthAdjust="spacingAndGlyphs">MSLNL</text>
<text x="54.8" y="160.17" font-size="6.6" fill="#4A73C0" textLength="33.9" lengthAdjust="spacingAndGlyphs">AC005488.1</text>
<text x="53.5" y="168.47" font-size="6.6" fill="#4A73C0" textLength="13.4" lengthAdjust="spacingAndGlyphs">ELF5</text>
<text x="33.4" y="178.57" font-size="6.6" fill="#4A73C0" textLength="19.5" lengthAdjust="spacingAndGlyphs">PAGE4</text>
<text x="184.5" y="23.17" font-size="6.6" fill="#D63A35" textLength="13.9" lengthAdjust="spacingAndGlyphs">KLK1</text>
<text x="159.6" y="77.67" font-size="6.6" fill="#D63A35" textLength="36" lengthAdjust="spacingAndGlyphs">TMPRSS11E</text>
<text x="155.8" y="91.97" font-size="6.6" fill="#D63A35" textLength="33.6" lengthAdjust="spacingAndGlyphs">HEPACAM2</text>
<text x="144" y="102.77" font-size="6.6" fill="#D63A35" textLength="20.2" lengthAdjust="spacingAndGlyphs">MUC17</text>
<text x="171.9" y="112.77" font-size="6.6" fill="#D63A35" textLength="20.3" lengthAdjust="spacingAndGlyphs">CALCA</text>
<text x="175.8" y="123.27" font-size="6.6" fill="#D63A35" textLength="16.4" lengthAdjust="spacingAndGlyphs">FOXI1</text>
<text x="168.8" y="134.07" font-size="6.6" fill="#D63A35" textLength="24" lengthAdjust="spacingAndGlyphs">LRRTM1</text>
<text x="145.4" y="143.47" font-size="6.6" fill="#D63A35" textLength="24.8" lengthAdjust="spacingAndGlyphs">GPRC6A</text>
<text x="184.9" y="146.37" font-size="6.6" fill="#D63A35" textLength="13.3" lengthAdjust="spacingAndGlyphs">IRS4</text>
<text x="166.6" y="160.27" font-size="6.6" fill="#D63A35" textLength="20.7" lengthAdjust="spacingAndGlyphs">APOA4</text>
<rect x="31.1" y="16.5" width="170.3" height="164.8" fill="none" stroke="#555" stroke-width="0.9"/>
<line x1="30.7" y1="181.3" x2="201.8" y2="181.3" stroke="#222" stroke-width="1.1" />
<text x="27.2" y="177.01" font-size="7.6" fill="#4D4D4D" text-anchor="end">0</text>
<text x="27.2" y="132.01" font-size="7.6" fill="#4D4D4D" text-anchor="end">10</text>
<text x="27.2" y="87.01" font-size="7.6" fill="#4D4D4D" text-anchor="end">20</text>
<text x="27.2" y="42.01" font-size="7.6" fill="#4D4D4D" text-anchor="end">30</text>
<text x="32.5" y="191.41" font-size="7.6" fill="#4D4D4D" text-anchor="middle">-20</text>
<text x="64.7" y="191.41" font-size="7.6" fill="#4D4D4D" text-anchor="middle">-10</text>
<text x="96.9" y="191.41" font-size="7.6" fill="#4D4D4D" text-anchor="middle">0</text>
<text x="129.1" y="191.41" font-size="7.6" fill="#4D4D4D" text-anchor="middle">10</text>
<text x="161.3" y="191.41" font-size="7.6" fill="#4D4D4D" text-anchor="middle">20</text>
<text x="193.5" y="191.41" font-size="7.6" fill="#4D4D4D" text-anchor="middle">30</text>
<text x="80.6" y="202.03" font-size="9.4" fill="#111" textLength="70.7" lengthAdjust="spacingAndGlyphs">log2(Fold Change)</text>
<text transform="translate(16.43,99.2) rotate(-90)" x="0" y="0" font-size="9.4" fill="#111" text-anchor="middle" textLength="94.9" lengthAdjust="spacingAndGlyphs">-log10(Adjusted P-value)</text>
<text x="31.3" y="9.95" font-size="10.6" fill="#111" textLength="134.8" lengthAdjust="spacingAndGlyphs">Volcano Plot with Top Genes</text>
<text x="0.75" y="14.4" font-size="15" fill="#000" textLength="10" lengthAdjust="spacingAndGlyphs" stroke="#000" stroke-width="0.25">A</text>
<line x1="354" y1="11.2" x2="354" y2="176.6" stroke="#EBEBEB" stroke-width="0.7" />
<line x1="381.2" y1="11.2" x2="381.2" y2="176.6" stroke="#EBEBEB" stroke-width="0.7" />
<line x1="408.4" y1="11.2" x2="408.4" y2="176.6" stroke="#EBEBEB" stroke-width="0.7" />
<line x1="435.6" y1="11.2" x2="435.6" y2="176.6" stroke="#EBEBEB" stroke-width="0.7" />
<line x1="449.2" y1="11.2" x2="449.2" y2="176.6" stroke="#EBEBEB" stroke-width="0.5" />
<line x1="462.8" y1="11.2" x2="462.8" y2="176.6" stroke="#EBEBEB" stroke-width="0.7" />
<line x1="348.6" y1="16" x2="468.3" y2="16" stroke="#EBEBEB" stroke-width="0.7" />
<line x1="348.6" y1="24.19" x2="468.3" y2="24.19" stroke="#EBEBEB" stroke-width="0.7" />
<line x1="348.6" y1="32.38" x2="468.3" y2="32.38" stroke="#EBEBEB" stroke-width="0.7" />
<line x1="348.6" y1="40.57" x2="468.3" y2="40.57" stroke="#EBEBEB" stroke-width="0.7" />
<line x1="348.6" y1="48.76" x2="468.3" y2="48.76" stroke="#EBEBEB" stroke-width="0.7" />
<line x1="348.6" y1="56.95" x2="468.3" y2="56.95" stroke="#EBEBEB" stroke-width="0.7" />
<line x1="348.6" y1="65.14" x2="468.3" y2="65.14" stroke="#EBEBEB" stroke-width="0.7" />
<line x1="348.6" y1="73.33" x2="468.3" y2="73.33" stroke="#EBEBEB" stroke-width="0.7" />
<line x1="348.6" y1="81.52" x2="468.3" y2="81.52" stroke="#EBEBEB" stroke-width="0.7" />
<line x1="348.6" y1="89.71" x2="468.3" y2="89.71" stroke="#EBEBEB" stroke-width="0.7" />
<line x1="348.6" y1="97.9" x2="468.3" y2="97.9" stroke="#EBEBEB" stroke-width="0.7" />
<line x1="348.6" y1="106.09" x2="468.3" y2="106.09" stroke="#EBEBEB" stroke-width="0.7" />
<line x1="348.6" y1="114.28" x2="468.3" y2="114.28" stroke="#EBEBEB" stroke-width="0.7" />
<line x1="348.6" y1="122.47" x2="468.3" y2="122.47" stroke="#EBEBEB" stroke-width="0.7" />
<line x1="348.6" y1="130.66" x2="468.3" y2="130.66" stroke="#EBEBEB" stroke-width="0.7" />
<line x1="348.6" y1="138.85" x2="468.3" y2="138.85" stroke="#EBEBEB" stroke-width="0.7" />
<line x1="348.6" y1="147.04" x2="468.3" y2="147.04" stroke="#EBEBEB" stroke-width="0.7" />
<line x1="348.6" y1="155.23" x2="468.3" y2="155.23" stroke="#EBEBEB" stroke-width="0.7" />
<line x1="348.6" y1="163.42" x2="468.3" y2="163.42" stroke="#EBEBEB" stroke-width="0.7" />
<line x1="348.6" y1="171.61" x2="468.3" y2="171.61" stroke="#EBEBEB" stroke-width="0.7" />
<rect x="354" y="12.35" width="108.8" height="7.3" fill="#C3242F" />
<text transform="translate(345.9,18.56) scale(0.94,1)" font-size="5.7" fill="#333" text-anchor="end">Neuroactive ligand-receptor interaction</text>
<rect x="354" y="20.54" width="65.28" height="7.3" fill="#C3242F" />
<text transform="translate(345.9,26.75) scale(0.94,1)" font-size="5.7" fill="#333" text-anchor="end">Neuroactive ligand signaling</text>
<rect x="354" y="28.73" width="59.84" height="7.3" fill="#C3242F" />
<text transform="translate(345.9,34.94) scale(0.94,1)" font-size="5.7" fill="#333" text-anchor="end">Hormone signaling</text>
<rect x="354" y="36.92" width="40.8" height="7.3" fill="#C2242F" />
<text transform="translate(345.9,43.13) scale(0.94,1)" font-size="5.7" fill="#333" text-anchor="end">Cholinergic synapse</text>
<rect x="354" y="45.11" width="70.72" height="7.3" fill="#C2242F" />
<text transform="translate(345.9,51.32) scale(0.94,1)" font-size="5.7" fill="#333" text-anchor="end">Cytokine-cytokine receptor interaction</text>
<rect x="354" y="53.3" width="35.36" height="7.3" fill="#C2252F" />
<text transform="translate(345.9,59.51) scale(0.94,1)" font-size="5.7" fill="#333" text-anchor="end">Rheumatoid arthritis</text>
<rect x="354" y="61.49" width="29.92" height="7.3" fill="#C12530" />
<text transform="translate(345.9,67.7) scale(0.94,1)" font-size="5.7" fill="#333" text-anchor="end">Synaptic vesicle cycle</text>
<rect x="354" y="69.68" width="16.32" height="7.3" fill="#C12530" />
<text transform="translate(345.9,75.89) scale(0.94,1)" font-size="5.7" fill="#333" text-anchor="end">Maturity onset diabetes of the young</text>
<rect x="354" y="77.87" width="29.92" height="7.3" fill="#C02531" />
<text transform="translate(345.9,84.08) scale(0.94,1)" font-size="5.7" fill="#333" text-anchor="end">GABAergic synapse</text>
<rect x="354" y="86.06" width="24.48" height="7.3" fill="#BF2532" />
<text transform="translate(345.9,92.27) scale(0.94,1)" font-size="5.7" fill="#333" text-anchor="end">Steroid hormone biosynthesis</text>
<rect x="354" y="94.25" width="51.68" height="7.3" fill="#BB2536" />
<text transform="translate(345.9,100.46) scale(0.94,1)" font-size="5.7" fill="#333" text-anchor="end">cAMP signaling pathway</text>
<rect x="354" y="102.44" width="29.92" height="7.3" fill="#B5263B" />
<text transform="translate(345.9,108.65) scale(0.94,1)" font-size="5.7" fill="#333" text-anchor="end">Hematopoietic cell lineage</text>
<rect x="354" y="110.63" width="46.24" height="7.3" fill="#9C2950" />
<text transform="translate(345.9,116.84) scale(0.94,1)" font-size="5.7" fill="#333" text-anchor="end">Cornified envelope formation</text>
<rect x="354" y="118.82" width="13.6" height="7.3" fill="#912A5A" />
<text transform="translate(345.9,125.03) scale(0.94,1)" font-size="5.7" fill="#333" text-anchor="end">Collecting duct acid secretion</text>
<rect x="354" y="127.01" width="29.92" height="7.3" fill="#902A5B" />
<text transform="translate(345.9,133.22) scale(0.94,1)" font-size="5.7" fill="#333" text-anchor="end">Serotonergic synapse</text>
<rect x="354" y="135.2" width="16.32" height="7.3" fill="#8B2B5F" />
<text transform="translate(345.9,141.41) scale(0.94,1)" font-size="5.7" fill="#333" text-anchor="end">Nicotine addiction</text>
<rect x="354" y="143.39" width="65.28" height="7.3" fill="#862C63" />
<text transform="translate(345.9,149.6) scale(0.94,1)" font-size="5.7" fill="#333" text-anchor="end">PI3K-Akt signaling pathway</text>
<rect x="354" y="151.58" width="21.76" height="7.3" fill="#722F72" />
<text transform="translate(345.9,157.79) scale(0.94,1)" font-size="5.7" fill="#333" text-anchor="end">Epithelial cell signaling in Helicobacter pylori infection</text>
<rect x="354" y="159.77" width="27.2" height="7.3" fill="#6B3078" />
<text transform="translate(345.9,165.98) scale(0.94,1)" font-size="5.7" fill="#333" text-anchor="end">Protein digestion and absorption</text>
<rect x="354" y="167.96" width="16.32" height="7.3" fill="#2F3D97" />
<text transform="translate(345.9,174.17) scale(0.94,1)" font-size="5.7" fill="#333" text-anchor="end">Type II diabetes mellitus</text>
<text x="354" y="184.13" font-size="5.6" fill="#4D4D4D" text-anchor="middle">0</text>
<text x="381.2" y="184.13" font-size="5.6" fill="#4D4D4D" text-anchor="middle">10</text>
<text x="408.4" y="184.13" font-size="5.6" fill="#4D4D4D" text-anchor="middle">20</text>
<text x="435.6" y="184.13" font-size="5.6" fill="#4D4D4D" text-anchor="middle">30</text>
<text x="462.8" y="184.13" font-size="5.6" fill="#4D4D4D" text-anchor="middle">40</text>
<text x="391" y="192.07" font-size="6.6" fill="#111" textLength="34.6" lengthAdjust="spacingAndGlyphs">Gene Count</text>
<text x="349.2" y="6.48" font-size="7.8" fill="#111" textLength="95.8" lengthAdjust="spacingAndGlyphs">KEGG Pathway Enrichment</text>
<text x="240.5" y="14.4" font-size="14.9" fill="#000" textLength="7.9" lengthAdjust="spacingAndGlyphs" stroke="#000" stroke-width="0.55">B</text>
<text x="478.2" y="69.87" font-size="6.6" fill="#111" textLength="21.5" lengthAdjust="spacingAndGlyphs">p-value</text>
<defs><linearGradient id="gB" x1="0" y1="0" x2="0" y2="1"><stop offset="0" stop-color="#C3242F"/><stop offset="0.5" stop-color="#862C63"/><stop offset="1" stop-color="#2E3D98"/></linearGradient></defs>
<rect x="478.2" y="73.2" width="10.4" height="50.5" fill="url(#gB)" />
<line x1="478.2" y1="88.2" x2="480.3" y2="88.2" stroke="#fff" stroke-width="0.6" />
<line x1="486.5" y1="88.2" x2="488.6" y2="88.2" stroke="#fff" stroke-width="0.6" />
<text x="491.8" y="90.06" font-size="5.4" fill="#4D4D4D" textLength="13.5" lengthAdjust="spacingAndGlyphs">0.002</text>
<line x1="478.2" y1="102.3" x2="480.3" y2="102.3" stroke="#fff" stroke-width="0.6" />
<line x1="486.5" y1="102.3" x2="488.6" y2="102.3" stroke="#fff" stroke-width="0.6" />
<text x="491.8" y="104.16" font-size="5.4" fill="#4D4D4D" textLength="13.5" lengthAdjust="spacingAndGlyphs">0.004</text>
<line x1="478.2" y1="117" x2="480.3" y2="117" stroke="#fff" stroke-width="0.6" />
<line x1="486.5" y1="117" x2="488.6" y2="117" stroke="#fff" stroke-width="0.6" />
<text x="491.8" y="118.86" font-size="5.4" fill="#4D4D4D" textLength="13.5" lengthAdjust="spacingAndGlyphs">0.006</text>
<line x1="142.44" y1="225.6" x2="142.44" y2="339.3" stroke="#EBEBEB" stroke-width="0.6" />
<line x1="150.63" y1="225.6" x2="150.63" y2="339.3" stroke="#EBEBEB" stroke-width="0.6" />
<line x1="158.82" y1="225.6" x2="158.82" y2="339.3" stroke="#EBEBEB" stroke-width="0.6" />
<line x1="167.01" y1="225.6" x2="167.01" y2="339.3" stroke="#EBEBEB" stroke-width="0.6" />
<line x1="175.2" y1="225.6" x2="175.2" y2="339.3" stroke="#EBEBEB" stroke-width="0.6" />
<line x1="183.39" y1="225.6" x2="183.39" y2="339.3" stroke="#EBEBEB" stroke-width="0.6" />
<line x1="191.58" y1="225.6" x2="191.58" y2="339.3" stroke="#EBEBEB" stroke-width="0.6" />
<line x1="199.77" y1="225.6" x2="199.77" y2="339.3" stroke="#EBEBEB" stroke-width="0.6" />
<line x1="140.3" y1="234.8" x2="205.3" y2="234.8" stroke="#EBEBEB" stroke-width="0.6" />
<line x1="140.3" y1="250.78" x2="205.3" y2="250.78" stroke="#EBEBEB" stroke-width="0.6" />
<line x1="140.3" y1="266.76" x2="205.3" y2="266.76" stroke="#EBEBEB" stroke-width="0.6" />
<line x1="140.3" y1="282.74" x2="205.3" y2="282.74" stroke="#EBEBEB" stroke-width="0.6" />
<line x1="140.3" y1="298.72" x2="205.3" y2="298.72" stroke="#EBEBEB" stroke-width="0.6" />
<line x1="140.3" y1="314.7" x2="205.3" y2="314.7" stroke="#EBEBEB" stroke-width="0.6" />
<line x1="140.3" y1="330.68" x2="205.3" y2="330.68" stroke="#EBEBEB" stroke-width="0.6" />
<circle cx="202.72" cy="234.8" r="2.8" fill="#E57262" />
<text x="137.8" y="236.95" font-size="4.8" fill="#3A3A3A" text-anchor="end" textLength="123.7" lengthAdjust="spacingAndGlyphs">HALLMARK_EPITHELIAL_MESENCHYMAL_TRANSITION</text>
<circle cx="202.39" cy="250.78" r="2.6" fill="#E57262" />
<text x="137.8" y="252.93" font-size="4.8" fill="#3A3A3A" text-anchor="end" textLength="85.3" lengthAdjust="spacingAndGlyphs">HALLMARK_ALLOGRAFT_REJECTION</text>
<circle cx="200.92" cy="266.76" r="0.75" fill="#E57A6A" />
<text x="137.8" y="268.91" font-size="4.8" fill="#3A3A3A" text-anchor="end" textLength="91.4" lengthAdjust="spacingAndGlyphs">HALLMARK_IL6_JAK_STAT3_SIGNALING</text>
<circle cx="200.43" cy="282.74" r="1.7" fill="#E57A6A" />
<text x="137.8" y="284.89" font-size="4.8" fill="#3A3A3A" text-anchor="end" textLength="60.4" lengthAdjust="spacingAndGlyphs">HALLMARK_COMPLEMENT</text>
<circle cx="151.78" cy="298.72" r="1.8" fill="#A3D8D0" />
<text x="137.8" y="300.87" font-size="4.8" fill="#3A3A3A" text-anchor="end" textLength="70.7" lengthAdjust="spacingAndGlyphs">HALLMARK_MYC_TARGETS_V1</text>
<circle cx="148.83" cy="314.7" r="2.5" fill="#95D2C9" />
<text x="137.8" y="316.85" font-size="4.8" fill="#3A3A3A" text-anchor="end" textLength="64.1" lengthAdjust="spacingAndGlyphs">HALLMARK_ADIPOGENESIS</text>
<circle cx="143.42" cy="330.68" r="3.6" fill="#8ACDC3" />
<text x="137.8" y="332.83" font-size="4.8" fill="#3A3A3A" text-anchor="end" textLength="100.3" lengthAdjust="spacingAndGlyphs">HALLMARK_OXIDATIVE_PHOSPHORYLATION</text>
<rect x="140.3" y="225.6" width="65" height="113.7" fill="none" stroke="#222" stroke-width="0.9"/>
<text x="142.44" y="346.22" font-size="4.7" fill="#4D4D4D" text-anchor="middle">-2</text>
<text x="158.82" y="346.22" font-size="4.7" fill="#4D4D4D" text-anchor="middle">-1</text>
<text x="175.2" y="346.22" font-size="4.7" fill="#4D4D4D" text-anchor="middle">0</text>
<text x="191.58" y="346.22" font-size="4.7" fill="#4D4D4D" text-anchor="middle">1</text>
<text x="128.6" y="353.49" font-size="5.5" fill="#111" textLength="89" lengthAdjust="spacingAndGlyphs">Normalized Enrichment Score (NES)</text>
<text transform="translate(12.74,282.4) rotate(-90)" x="0" y="0" font-size="5.5" fill="#111" text-anchor="middle" textLength="21.2" lengthAdjust="spacingAndGlyphs">Pathway</text>
<text x="104.2" y="220.94" font-size="6.8" fill="#111" font-weight="bold" textLength="137.1" lengthAdjust="spacingAndGlyphs">GSEA Bubble Plot of Significant Pathways</text>
<text x="3.9" y="212.5" font-size="14.9" fill="#000" textLength="9.4" lengthAdjust="spacingAndGlyphs" stroke="#000" stroke-width="0.4">C</text>
<text x="214.2" y="230.33" font-size="5.6" fill="#111" textLength="30.7" lengthAdjust="spacingAndGlyphs">-log10(FDR)</text>
<circle cx="219" cy="238.1" r="1.8" fill="#000" />
<text x="226.3" y="239.72" font-size="4.7" fill="#4D4D4D">2</text>
<circle cx="219" cy="247.6" r="2.5" fill="#000" />
<text x="226.3" y="249.22" font-size="4.7" fill="#4D4D4D">3</text>
<circle cx="219" cy="257.4" r="3" fill="#000" />
<text x="226.3" y="259.02" font-size="4.7" fill="#4D4D4D">4</text>
<circle cx="219" cy="267.2" r="3.6" fill="#000" />
<text x="226.3" y="268.82" font-size="4.7" fill="#4D4D4D">5</text>
<text x="214.4" y="289.19" font-size="5.5" fill="#111" textLength="11.2" lengthAdjust="spacingAndGlyphs">NES</text>
<defs><linearGradient id="gC" x1="0" y1="0" x2="0" y2="1"><stop offset="0" stop-color="#E46F5E"/><stop offset="0.47" stop-color="#FFFFFF"/><stop offset="1" stop-color="#7FC8BD"/></linearGradient></defs>
<rect x="214.4" y="291.5" width="9.6" height="49" fill="url(#gC)" />
<line x1="214.4" y1="301.3" x2="216.3" y2="301.3" stroke="#fff" stroke-width="0.5" />
<line x1="222.1" y1="301.3" x2="224" y2="301.3" stroke="#fff" stroke-width="0.5" />
<text x="226.8" y="302.92" font-size="4.7" fill="#4D4D4D">1</text>
<line x1="214.4" y1="314.7" x2="216.3" y2="314.7" stroke="#fff" stroke-width="0.5" />
<line x1="222.1" y1="314.7" x2="224" y2="314.7" stroke="#fff" stroke-width="0.5" />
<text x="226.8" y="316.32" font-size="4.7" fill="#4D4D4D">0</text>
<line x1="214.4" y1="328.1" x2="216.3" y2="328.1" stroke="#fff" stroke-width="0.5" />
<line x1="222.1" y1="328.1" x2="224" y2="328.1" stroke="#fff" stroke-width="0.5" />
<text x="226.8" y="329.72" font-size="4.7" fill="#4D4D4D">-1</text>
<line x1="436.8" y1="232.6" x2="436.8" y2="327.9" stroke="#EBEBEB" stroke-width="0.6" />
<line x1="442.1" y1="232.6" x2="442.1" y2="327.9" stroke="#EBEBEB" stroke-width="0.6" />
<line x1="447.4" y1="232.6" x2="447.4" y2="327.9" stroke="#EBEBEB" stroke-width="0.6" />
<line x1="452.7" y1="232.6" x2="452.7" y2="327.9" stroke="#EBEBEB" stroke-width="0.6" />
<line x1="458" y1="232.6" x2="458" y2="327.9" stroke="#EBEBEB" stroke-width="0.6" />
<line x1="463.3" y1="232.6" x2="463.3" y2="327.9" stroke="#EBEBEB" stroke-width="0.6" />
<line x1="468.6" y1="232.6" x2="468.6" y2="327.9" stroke="#EBEBEB" stroke-width="0.6" />
<line x1="473.9" y1="232.6" x2="473.9" y2="327.9" stroke="#EBEBEB" stroke-width="0.6" />
<line x1="434.7" y1="240.2" x2="479" y2="240.2" stroke="#EBEBEB" stroke-width="0.6" />
<line x1="434.7" y1="253.65" x2="479" y2="253.65" stroke="#EBEBEB" stroke-width="0.6" />
<line x1="434.7" y1="267.1" x2="479" y2="267.1" stroke="#EBEBEB" stroke-width="0.6" />
<line x1="434.7" y1="280.55" x2="479" y2="280.55" stroke="#EBEBEB" stroke-width="0.6" />
<line x1="434.7" y1="294" x2="479" y2="294" stroke="#EBEBEB" stroke-width="0.6" />
<line x1="434.7" y1="307.45" x2="479" y2="307.45" stroke="#EBEBEB" stroke-width="0.6" />
<line x1="434.7" y1="320.9" x2="479" y2="320.9" stroke="#EBEBEB" stroke-width="0.6" />
<rect x="458" y="234.5" width="18.97" height="11.4" fill="#BC1F2B" />
<text x="431" y="243.4" font-size="7.85" fill="#333" text-anchor="end" textLength="170.2" lengthAdjust="spacingAndGlyphs">HALLMARK_EPITHELIAL_MESENCHYMAL_TRANSITION</text>
<rect x="458" y="247.95" width="18.23" height="11.4" fill="#C0252F" />
<text x="431" y="256.85" font-size="7.85" fill="#333" text-anchor="end" textLength="117.2" lengthAdjust="spacingAndGlyphs">HALLMARK_ALLOGRAFT_REJECTION</text>
<rect x="458" y="261.4" width="17.6" height="11.4" fill="#C73639" />
<text x="431" y="270.3" font-size="7.85" fill="#333" text-anchor="end" textLength="125.4" lengthAdjust="spacingAndGlyphs">HALLMARK_IL6_JAK_STAT3_SIGNALING</text>
<rect x="458" y="274.85" width="17.17" height="11.4" fill="#CB3E3F" />
<text x="431" y="283.75" font-size="7.85" fill="#333" text-anchor="end" textLength="84.3" lengthAdjust="spacingAndGlyphs">HALLMARK_COMPLEMENT</text>
<rect x="443.05" y="288.3" width="14.95" height="11.4" fill="#64A5D3" />
<text x="431" y="297.2" font-size="7.85" fill="#333" text-anchor="end" textLength="98" lengthAdjust="spacingAndGlyphs">HALLMARK_MYC_TARGETS_V1</text>
<rect x="440.72" y="301.75" width="17.28" height="11.4" fill="#5593CA" />
<text x="431" y="310.65" font-size="7.85" fill="#333" text-anchor="end" textLength="87.6" lengthAdjust="spacingAndGlyphs">HALLMARK_ADIPOGENESIS</text>
<rect x="437.22" y="315.2" width="20.78" height="11.4" fill="#386BB3" />
<text x="431" y="324.1" font-size="7.85" fill="#333" text-anchor="end" textLength="139.9" lengthAdjust="spacingAndGlyphs">HALLMARK_OXIDATIVE_PHOSPHORYLATION</text>
<rect x="434.7" y="232.6" width="44.3" height="95.3" fill="none" stroke="#666" stroke-width="0.85"/>
<text transform="translate(436.8,339.29) scale(0.8,1)" font-size="8.4" fill="#4D4D4D" text-anchor="middle">-2</text>
<text transform="translate(447.4,339.29) scale(0.8,1)" font-size="8.4" fill="#4D4D4D" text-anchor="middle">-1</text>
<text transform="translate(458,339.29) scale(0.8,1)" font-size="8.4" fill="#4D4D4D" text-anchor="middle">0</text>
<text transform="translate(468.6,339.29) scale(0.8,1)" font-size="8.4" fill="#4D4D4D" text-anchor="middle">1</text>
<text transform="translate(456.4,350.74) scale(0.79,1)" font-size="10" fill="#111" text-anchor="middle">NES</text>
<text transform="translate(257.12,280.8) rotate(-90)" x="0" y="0" font-size="8.5" fill="#111" text-anchor="middle" textLength="96" lengthAdjust="spacingAndGlyphs">reorder(pathway, NES)</text>
<text x="240.5" y="208.2" font-size="14.9" fill="#000" textLength="9.4" lengthAdjust="spacingAndGlyphs" stroke="#000" stroke-width="0.55">D</text>
<text x="491.1" y="244.52" font-size="8.5" fill="#111" textLength="15.6" lengthAdjust="spacingAndGlyphs">NES</text>
<defs><linearGradient id="gD" x1="0" y1="0" x2="0" y2="1"><stop offset="0" stop-color="#B2182B"/><stop offset="0.12" stop-color="#D6604D"/><stop offset="0.27" stop-color="#F4A582"/><stop offset="0.38" stop-color="#FDDBC7"/><stop offset="0.48" stop-color="#F7F7F7"/><stop offset="0.6" stop-color="#D1E5F0"/><stop offset="0.72" stop-color="#92C5DE"/><stop offset="0.86" stop-color="#4393C3"/><stop offset="1" stop-color="#2166AC"/></linearGradient></defs>
<rect x="490.9" y="250.1" width="12.3" height="74.8" fill="url(#gD)" />
<line x1="490.9" y1="265.2" x2="493.3" y2="265.2" stroke="#fff" stroke-width="0.6" />
<line x1="500.8" y1="265.2" x2="503.2" y2="265.2" stroke="#fff" stroke-width="0.6" />
<text transform="translate(507.6,268.02) scale(0.8,1)" font-size="8.2" fill="#333">1</text>
<line x1="490.9" y1="285.8" x2="493.3" y2="285.8" stroke="#fff" stroke-width="0.6" />
<line x1="500.8" y1="285.8" x2="503.2" y2="285.8" stroke="#fff" stroke-width="0.6" />
<text transform="translate(507.6,288.62) scale(0.8,1)" font-size="8.2" fill="#333">0</text>
<line x1="490.9" y1="305.9" x2="493.3" y2="305.9" stroke="#fff" stroke-width="0.6" />
<line x1="500.8" y1="305.9" x2="503.2" y2="305.9" stroke="#fff" stroke-width="0.6" />
<text transform="translate(507.6,308.72) scale(0.8,1)" font-size="8.2" fill="#333">-1</text>
<line x1="558.68" y1="27.3" x2="558.68" y2="92.6" stroke="#EBEBEB" stroke-width="0.5" />
<line x1="558.68" y1="117.8" x2="558.68" y2="162" stroke="#EBEBEB" stroke-width="0.5" />
<line x1="577.39" y1="27.3" x2="577.39" y2="92.6" stroke="#EBEBEB" stroke-width="0.7" />
<line x1="577.39" y1="117.8" x2="577.39" y2="162" stroke="#EBEBEB" stroke-width="0.7" />
<line x1="596.11" y1="27.3" x2="596.11" y2="92.6" stroke="#EBEBEB" stroke-width="0.5" />
<line x1="596.11" y1="117.8" x2="596.11" y2="162" stroke="#EBEBEB" stroke-width="0.5" />
<line x1="614.83" y1="27.3" x2="614.83" y2="92.6" stroke="#EBEBEB" stroke-width="0.7" />
<line x1="614.83" y1="117.8" x2="614.83" y2="162" stroke="#EBEBEB" stroke-width="0.7" />
<line x1="633.55" y1="27.3" x2="633.55" y2="92.6" stroke="#EBEBEB" stroke-width="0.5" />
<line x1="633.55" y1="117.8" x2="633.55" y2="162" stroke="#EBEBEB" stroke-width="0.5" />
<line x1="652.26" y1="27.3" x2="652.26" y2="92.6" stroke="#EBEBEB" stroke-width="0.7" />
<line x1="652.26" y1="117.8" x2="652.26" y2="162" stroke="#EBEBEB" stroke-width="0.7" />
<line x1="670.98" y1="27.3" x2="670.98" y2="92.6" stroke="#EBEBEB" stroke-width="0.5" />
<line x1="670.98" y1="117.8" x2="670.98" y2="162" stroke="#EBEBEB" stroke-width="0.5" />
<polyline points="539.6,89.1 541.3,76.5 543,70.3 544.4,60.8 545.5,59.8 547.1,53.5 549.2,48.3 551.8,43.7 553.4,40.3 554.9,39.9 557,39.3 559.1,35.7 562.2,32.6 565.4,29.8 567.5,29.4 568.5,30.5 572.7,31.5 577.9,33.6 583.2,35.1 589.5,38.4 597.8,44.1 605.5,49.3 615.5,55.6 625.9,62.9 636.4,70.3 646.9,76.5 654.2,80.7 659.5,83.9 664.7,86.6 667.8,87 672,86.6 676.2,84.9 679.3,86.6 683.5,88.7" fill="none" stroke="#3A9332" stroke-width="1" stroke-linejoin="round" />
<line x1="539.5" y1="27.3" x2="539.5" y2="92.6" stroke="#1A1A1A" stroke-width="0.8" />
<text x="536.9" y="90.95" font-size="5.1" fill="#4D4D4D" text-anchor="end">0.0</text>
<line x1="537.9" y1="89.2" x2="539.5" y2="89.2" stroke="#333" stroke-width="0.5" />
<text x="536.9" y="69.75" font-size="5.1" fill="#4D4D4D" text-anchor="end">0.2</text>
<line x1="537.9" y1="68" x2="539.5" y2="68" stroke="#333" stroke-width="0.5" />
<text x="536.9" y="48.65" font-size="5.1" fill="#4D4D4D" text-anchor="end">0.4</text>
<line x1="537.9" y1="46.9" x2="539.5" y2="46.9" stroke="#333" stroke-width="0.5" />
<rect x="539.3" y="94.3" width="0.6" height="15.3" fill="#8C8C8C" />
<rect x="540.5" y="94.3" width="4.4" height="15.3" fill="#000000" />
<rect x="544.9" y="94.3" width="0.9" height="15.3" fill="#787878" />
<rect x="545.8" y="94.3" width="4" height="15.3" fill="#000000" />
<rect x="549.8" y="94.3" width="1.5" height="15.3" fill="#828282" />
<rect x="551.3" y="94.3" width="0.9" height="15.3" fill="#282828" />
<rect x="552.2" y="94.3" width="1.8" height="15.3" fill="#787878" />
<rect x="554" y="94.3" width="2.3" height="15.3" fill="#505050" />
<rect x="556.3" y="94.3" width="2.3" height="15.3" fill="#000000" />
<rect x="558.6" y="94.3" width="1.5" height="15.3" fill="#787878" />
<rect x="560.1" y="94.3" width="2" height="15.3" fill="#000000" />
<rect x="562.1" y="94.3" width="0.9" height="15.3" fill="#DCDCDC" />
<rect x="563" y="94.3" width="4.4" height="15.3" fill="#6E6E6E" />
<rect x="567.4" y="94.3" width="0.8" height="15.3" fill="#D2D2D2" />
<rect x="568.2" y="94.3" width="1.5" height="15.3" fill="#787878" />
<rect x="569.7" y="94.3" width="3.2" height="15.3" fill="#0A0A0A" />
<rect x="572.9" y="94.3" width="0.9" height="15.3" fill="#B4B4B4" />
<rect x="574" y="94.3" width="1.2" height="15.3" fill="#6E6E6E" />
<rect x="575.8" y="94.3" width="1.5" height="15.3" fill="#0A0A0A" />
<rect x="577.3" y="94.3" width="1.1" height="15.3" fill="#828282" />
<rect x="578.4" y="94.3" width="1.5" height="15.3" fill="#0A0A0A" />
<rect x="579.9" y="94.3" width="1.7" height="15.3" fill="#AAAAAA" />
<rect x="581.6" y="94.3" width="1.5" height="15.3" fill="#0A0A0A" />
<rect x="583.1" y="94.3" width="0.9" height="15.3" fill="#D2D2D2" />
<rect x="584" y="94.3" width="6.7" height="15.3" fill="#787878" />
<rect x="590.7" y="94.3" width="1.4" height="15.3" fill="#000000" />
<rect x="592.1" y="94.3" width="3" height="15.3" fill="#828282" />
<rect x="596" y="94.3" width="1.7" height="15.3" fill="#787878" />
<rect x="598.9" y="94.3" width="2.3" height="15.3" fill="#828282" />
<rect x="601.8" y="94.3" width="1.1" height="15.3" fill="#505050" />
<rect x="604.4" y="94.3" width="1.5" height="15.3" fill="#B4B4B4" />
<rect x="607" y="94.3" width="0.9" height="15.3" fill="#787878" />
<rect x="608.5" y="94.3" width="1.5" height="15.3" fill="#8C8C8C" />
<rect x="616.1" y="94.3" width="1.7" height="15.3" fill="#6E6E6E" />
<rect x="619.6" y="94.3" width="0.8" height="15.3" fill="#787878" />
<rect x="622.1" y="94.3" width="0.8" height="15.3" fill="#787878" />
<rect x="625.9" y="94.3" width="0.8" height="15.3" fill="#141414" />
<rect x="629.1" y="94.3" width="0.8" height="15.3" fill="#6E6E6E" />
<rect x="633.8" y="94.3" width="0.8" height="15.3" fill="#141414" />
<rect x="636.7" y="94.3" width="0.8" height="15.3" fill="#3C3C3C" />
<rect x="639.1" y="94.3" width="0.8" height="15.3" fill="#787878" />
<rect x="641.4" y="94.3" width="0.8" height="15.3" fill="#3C3C3C" />
<rect x="644.1" y="94.3" width="2.4" height="15.3" fill="#464646" />
<rect x="649" y="94.3" width="0.8" height="15.3" fill="#828282" />
<rect x="653.7" y="94.3" width="0.8" height="15.3" fill="#282828" />
<rect x="656" y="94.3" width="0.8" height="15.3" fill="#787878" />
<rect x="658.1" y="94.3" width="4.9" height="15.3" fill="#969696" />
<rect x="663" y="94.3" width="5.5" height="15.3" fill="#6E6E6E" />
<rect x="668.5" y="94.3" width="1.3" height="15.3" fill="#0A0A0A" />
<rect x="669.8" y="94.3" width="2.7" height="15.3" fill="#5A5A5A" />
<rect x="672.5" y="94.3" width="3.7" height="15.3" fill="#8C8C8C" />
<rect x="679.9" y="94.3" width="0.8" height="15.3" fill="#787878" />
<rect x="539.5" y="109.6" width="3.55" height="6.4" fill="#B5141C" />
<rect x="543" y="109.6" width="21.05" height="6.4" fill="#D42D26" />
<rect x="564" y="109.6" width="33.25" height="6.4" fill="#E9684F" />
<rect x="597.2" y="109.6" width="35.55" height="6.4" fill="#F1A48C" />
<rect x="632.7" y="109.6" width="13.75" height="6.4" fill="#FAE3D5" />
<rect x="646.4" y="109.6" width="12.65" height="6.4" fill="#E6EDF8" />
<rect x="659" y="109.6" width="7.05" height="6.4" fill="#B8D6E9" />
<rect x="666" y="109.6" width="9.05" height="6.4" fill="#6CABD7" />
<rect x="675" y="109.6" width="8.65" height="6.4" fill="#4487C5" />
<polygon points="539.5,144.9 539.96,120.12 541.12,135.75 542.28,139.72 543.44,141.08 544.6,141.8 545.76,142.3 546.92,142.69 548.08,143.01 549.24,143.28 550.4,143.49 551.56,143.67 552.73,143.82 553.89,143.95 555.05,144.05 556.21,144.14 557.37,144.22 558.53,144.29 559.69,144.34 560.85,144.39 562.01,144.44 563.17,144.48 564.33,144.51 565.49,144.54 566.65,144.57 567.81,144.59 568.97,144.61 570.13,144.63 571.29,144.65 572.45,144.67 573.61,144.68 574.77,144.7 575.94,144.71 577.1,144.72 578.26,144.73 579.42,144.74 580.58,144.75 581.74,144.76 582.9,144.77 584.06,144.78 585.22,144.79 586.38,144.79 587.54,144.8 588.7,144.81 589.86,144.81 591.02,144.82 592.18,144.82 593.34,144.83 594.5,144.83 595.66,144.84 596.82,144.84 597.98,144.84 599.14,144.85 600.31,144.85 601.47,144.85 602.63,144.86 603.79,144.86 604.95,144.86 606.11,144.86 607.27,144.87 608.43,144.87 609.59,144.87 609.59,144.9" fill="#C4C4C4"/>
<line x1="539.5" y1="144.9" x2="609.59" y2="144.9" stroke="#B8B8B8" stroke-width="0.7" />
<polygon points="653.8,144.9 653.8,145.08 654.55,145.09 655.3,145.1 656.05,145.11 656.8,145.12 657.55,145.13 658.3,145.14 659.05,145.16 659.8,145.17 660.55,145.19 661.3,145.2 662.05,145.22 662.8,145.24 663.55,145.26 664.3,145.29 665.05,145.31 665.8,145.34 666.55,145.37 667.3,145.4 668.05,145.43 668.8,145.47 669.55,145.51 670.3,145.55 671.05,145.6 671.8,145.66 672.55,145.72 673.3,145.79 674.05,145.86 674.8,145.95 675.55,146.04 676.3,146.16 677.05,146.29 677.8,146.44 678.55,146.62 679.3,146.85 680.05,147.15 680.8,147.54 681.55,148.07 682.3,148.83 683.05,149.94 683.8,151.62 683.8,144.9" fill="#C4C4C4"/>
<line x1="653.8" y1="144.9" x2="683.8" y2="144.9" stroke="#B8B8B8" stroke-width="0.7" />
<line x1="539.5" y1="117.8" x2="539.5" y2="162" stroke="#111" stroke-width="0.9" />
<line x1="539.5" y1="162" x2="683.8" y2="162" stroke="#C4C4C4" stroke-width="1.4" />
<text x="537.5" y="121.65" font-size="5.1" fill="#4D4D4D" text-anchor="end">30</text>
<line x1="537.9" y1="119.9" x2="539.5" y2="119.9" stroke="#333" stroke-width="0.5" />
<text x="537.5" y="130.05" font-size="5.1" fill="#4D4D4D" text-anchor="end">20</text>
<line x1="537.9" y1="128.3" x2="539.5" y2="128.3" stroke="#333" stroke-width="0.5" />
<text x="537.5" y="138.35" font-size="5.1" fill="#4D4D4D" text-anchor="end">10</text>
<line x1="537.9" y1="136.6" x2="539.5" y2="136.6" stroke="#333" stroke-width="0.5" />
<text x="537.5" y="146.55" font-size="5.1" fill="#4D4D4D" text-anchor="end">0</text>
<line x1="537.9" y1="144.8" x2="539.5" y2="144.8" stroke="#333" stroke-width="0.5" />
<text x="537.5" y="155.05" font-size="5.1" fill="#4D4D4D" text-anchor="end">-10</text>
<line x1="537.9" y1="153.3" x2="539.5" y2="153.3" stroke="#333" stroke-width="0.5" />
<text x="537.5" y="163.65" font-size="5.1" fill="#4D4D4D" text-anchor="end">-20</text>
<line x1="537.9" y1="161.9" x2="539.5" y2="161.9" stroke="#333" stroke-width="0.5" />
<text x="577.39" y="168.6" font-size="4.95" fill="#4D4D4D" text-anchor="middle">5000</text>
<line x1="577.39" y1="162" x2="577.39" y2="163.5" stroke="#333" stroke-width="0.5" />
<text x="614.83" y="168.6" font-size="4.95" fill="#4D4D4D" text-anchor="middle">10000</text>
<line x1="614.83" y1="162" x2="614.83" y2="163.5" stroke="#333" stroke-width="0.5" />
<text x="652.26" y="168.6" font-size="4.95" fill="#4D4D4D" text-anchor="middle">15000</text>
<line x1="652.26" y1="162" x2="652.26" y2="163.5" stroke="#333" stroke-width="0.5" />
<text x="576.9" y="176.13" font-size="6.2" fill="#111" textLength="68.8" lengthAdjust="spacingAndGlyphs">Rank in Ordered Dataset</text>
<text transform="translate(526.69,58.9) rotate(-90)" x="0" y="0" font-size="6.36" fill="#111" text-anchor="middle" textLength="76" lengthAdjust="spacingAndGlyphs">Running Enrichment Score</text>
<text transform="translate(526.5,139.7) rotate(-90)" x="0" y="0" font-size="6.4" fill="#111" text-anchor="middle" textLength="53" lengthAdjust="spacingAndGlyphs">Ranked List Metric</text>
<text x="539.7" y="21.91" font-size="7.6" fill="#111" textLength="119.8" lengthAdjust="spacingAndGlyphs">Epithelial–Mesenchymal Transition</text>
<text x="512.2" y="14.1" font-size="14.9" fill="#000" textLength="6.8" lengthAdjust="spacingAndGlyphs" stroke="#000" stroke-width="0.6">E</text>
<line x1="562.21" y1="209.8" x2="562.21" y2="274.3" stroke="#EBEBEB" stroke-width="0.5" />
<line x1="562.21" y1="300" x2="562.21" y2="342.3" stroke="#EBEBEB" stroke-width="0.5" />
<line x1="580.42" y1="209.8" x2="580.42" y2="274.3" stroke="#EBEBEB" stroke-width="0.7" />
<line x1="580.42" y1="300" x2="580.42" y2="342.3" stroke="#EBEBEB" stroke-width="0.7" />
<line x1="598.63" y1="209.8" x2="598.63" y2="274.3" stroke="#EBEBEB" stroke-width="0.5" />
<line x1="598.63" y1="300" x2="598.63" y2="342.3" stroke="#EBEBEB" stroke-width="0.5" />
<line x1="616.84" y1="209.8" x2="616.84" y2="274.3" stroke="#EBEBEB" stroke-width="0.7" />
<line x1="616.84" y1="300" x2="616.84" y2="342.3" stroke="#EBEBEB" stroke-width="0.7" />
<line x1="635.05" y1="209.8" x2="635.05" y2="274.3" stroke="#EBEBEB" stroke-width="0.5" />
<line x1="635.05" y1="300" x2="635.05" y2="342.3" stroke="#EBEBEB" stroke-width="0.5" />
<line x1="653.26" y1="209.8" x2="653.26" y2="274.3" stroke="#EBEBEB" stroke-width="0.7" />
<line x1="653.26" y1="300" x2="653.26" y2="342.3" stroke="#EBEBEB" stroke-width="0.7" />
<line x1="671.47" y1="209.8" x2="671.47" y2="274.3" stroke="#EBEBEB" stroke-width="0.5" />
<line x1="671.47" y1="300" x2="671.47" y2="342.3" stroke="#EBEBEB" stroke-width="0.5" />
<polyline points="544.2,272 545.2,261.5 546.7,253.2 548,243.7 549.4,232.2 550.9,231.2 552.1,225.9 553.6,221.3 555.7,222.2 557.8,221.8 558.8,219.7 560.9,220.1 563,218.6 565.1,218 566.8,217.1 568.3,216.5 570.4,217.1 572.5,216.5 574.6,215 576.6,214.4 579.8,214.4 581.9,215.5 586.1,217.6 590.3,218.6 596.5,221.8 602.8,225.9 611.2,231.2 619.6,237 625.9,242.3 636.4,249 646.9,256.3 654.2,261.1 660.5,263.6 662.6,264.7 667.8,267.4 671,269.9 672.4,268.9 675.2,271 678.3,267.4 680.4,268.9 683.5,271" fill="none" stroke="#3A9332" stroke-width="1" stroke-linejoin="round" />
<line x1="543.9" y1="209.8" x2="543.9" y2="274.3" stroke="#BDBDBD" stroke-width="1.2" />
<text x="540.7" y="273.42" font-size="5" fill="#4D4D4D" text-anchor="end">0.0</text>
<line x1="542.3" y1="271.7" x2="543.9" y2="271.7" stroke="#333" stroke-width="0.5" />
<text x="540.7" y="253.62" font-size="5" fill="#4D4D4D" text-anchor="end">0.2</text>
<line x1="542.3" y1="251.9" x2="543.9" y2="251.9" stroke="#333" stroke-width="0.5" />
<text x="540.7" y="233.62" font-size="5" fill="#4D4D4D" text-anchor="end">0.4</text>
<line x1="542.3" y1="231.9" x2="543.9" y2="231.9" stroke="#333" stroke-width="0.5" />
<text x="540.7" y="213.52" font-size="5" fill="#4D4D4D" text-anchor="end">0.6</text>
<line x1="542.3" y1="211.8" x2="543.9" y2="211.8" stroke="#333" stroke-width="0.5" />
<rect x="543.6" y="276.6" width="2.1" height="14.9" fill="#787878" />
<rect x="545.7" y="276.6" width="1.1" height="14.9" fill="#3C3C3C" />
<rect x="546.8" y="276.6" width="3" height="14.9" fill="#787878" />
<rect x="550.9" y="276.6" width="1.2" height="14.9" fill="#0A0A0A" />
<rect x="552.1" y="276.6" width="1.7" height="14.9" fill="#6E6E6E" />
<rect x="555.9" y="276.6" width="0.9" height="14.9" fill="#8C8C8C" />
<rect x="558" y="276.6" width="0.8" height="14.9" fill="#323232" />
<rect x="560.9" y="276.6" width="1.1" height="14.9" fill="#0A0A0A" />
<rect x="563.5" y="276.6" width="1.5" height="14.9" fill="#323232" />
<rect x="566.7" y="276.6" width="1.5" height="14.9" fill="#0A0A0A" />
<rect x="568.4" y="276.6" width="1.8" height="14.9" fill="#AAAAAA" />
<rect x="570.8" y="276.6" width="2" height="14.9" fill="#787878" />
<rect x="572.8" y="276.6" width="1.5" height="14.9" fill="#323232" />
<rect x="574.3" y="276.6" width="2.3" height="14.9" fill="#787878" />
<rect x="576.6" y="276.6" width="0.9" height="14.9" fill="#969696" />
<rect x="577.5" y="276.6" width="1.4" height="14.9" fill="#505050" />
<rect x="579.8" y="276.6" width="1.2" height="14.9" fill="#787878" />
<rect x="585" y="276.6" width="2.4" height="14.9" fill="#787878" />
<rect x="588" y="276.6" width="1.1" height="14.9" fill="#505050" />
<rect x="590" y="276.6" width="0.9" height="14.9" fill="#3C3C3C" />
<rect x="592.9" y="276.6" width="1.8" height="14.9" fill="#141414" />
<rect x="596.1" y="276.6" width="1.8" height="14.9" fill="#AAAAAA" />
<rect x="604" y="276.6" width="0.9" height="14.9" fill="#505050" />
<rect x="607" y="276.6" width="0.8" height="14.9" fill="#787878" />
<rect x="609" y="276.6" width="2" height="14.9" fill="#323232" />
<rect x="611.9" y="276.6" width="1.2" height="14.9" fill="#0A0A0A" />
<rect x="613.6" y="276.6" width="1.5" height="14.9" fill="#505050" />
<rect x="617.1" y="276.6" width="1.8" height="14.9" fill="#787878" />
<rect x="621.8" y="276.6" width="2" height="14.9" fill="#464646" />
<rect x="626.8" y="276.6" width="1.1" height="14.9" fill="#8C8C8C" />
<rect x="630.3" y="276.6" width="1.7" height="14.9" fill="#464646" />
<rect x="636.1" y="276.6" width="1.8" height="14.9" fill="#AAAAAA" />
<rect x="645.2" y="276.6" width="1.8" height="14.9" fill="#B4B4B4" />
<rect x="650.3" y="276.6" width="1.4" height="14.9" fill="#969696" />
<rect x="654.9" y="276.6" width="1.2" height="14.9" fill="#464646" />
<rect x="657" y="276.6" width="0.8" height="14.9" fill="#828282" />
<rect x="659.9" y="276.6" width="1.2" height="14.9" fill="#282828" />
<rect x="671" y="276.6" width="1.2" height="14.9" fill="#505050" />
<rect x="675.4" y="276.6" width="1.4" height="14.9" fill="#505050" />
<rect x="544" y="291.5" width="6.65" height="6.3" fill="#B5141C" />
<rect x="550.6" y="291.5" width="31.05" height="6.3" fill="#D42D26" />
<rect x="581.6" y="291.5" width="33.35" height="6.3" fill="#E9684F" />
<rect x="614.9" y="291.5" width="18.05" height="6.3" fill="#F1A48C" />
<rect x="632.9" y="291.5" width="13.95" height="6.3" fill="#FAE3D5" />
<rect x="646.8" y="291.5" width="7.05" height="6.3" fill="#E6EDF8" />
<rect x="653.8" y="291.5" width="9.05" height="6.3" fill="#B8D6E9" />
<rect x="662.8" y="291.5" width="12.65" height="6.3" fill="#6CABD7" />
<rect x="675.4" y="291.5" width="7.95" height="6.3" fill="#4487C5" />
<polygon points="543.7,325.9 544,302.3 544.55,312.11 545.09,316.97 545.64,319.47 546.19,320.83 546.73,321.64 547.28,322.18 547.82,322.57 548.37,322.88 548.92,323.13 549.46,323.36 550.01,323.56 550.56,323.73 551.1,323.89 551.65,324.04 552.19,324.17 552.74,324.29 553.29,324.4 553.83,324.5 554.38,324.59 554.93,324.68 555.47,324.75 556.02,324.83 556.56,324.89 557.11,324.95 557.66,325 558.2,325.05 558.75,325.1 559.3,325.14 559.84,325.18 560.39,325.22 560.94,325.25 561.48,325.28 562.03,325.31 562.57,325.34 563.12,325.37 563.67,325.39 564.21,325.41 564.76,325.43 565.31,325.45 565.85,325.47 566.4,325.49 566.94,325.51 567.49,325.52 568.04,325.54 568.58,325.55 569.13,325.56 569.68,325.58 570.22,325.59 570.77,325.6 571.32,325.61 571.86,325.62 572.41,325.63 572.95,325.64 573.5,325.65 574.05,325.66 574.59,325.66 575.14,325.67 575.69,325.68 576.23,325.69 576.78,325.69 576.78,325.9" fill="#C4C4C4"/>
<line x1="543.7" y1="325.9" x2="576.78" y2="325.9" stroke="#B8B8B8" stroke-width="0.7" />
<polygon points="635.6,325.9 635.6,325.95 636.8,325.95 637.99,325.96 639.19,325.96 640.38,325.97 641.58,325.97 642.77,325.98 643.97,325.99 645.16,325.99 646.36,326 647.55,326.01 648.75,326.02 649.94,326.03 651.13,326.04 652.33,326.06 653.52,326.07 654.72,326.08 655.91,326.1 657.11,326.12 658.3,326.14 659.5,326.16 660.7,326.19 661.89,326.21 663.09,326.24 664.28,326.28 665.48,326.32 666.67,326.36 667.87,326.42 669.06,326.48 670.25,326.54 671.45,326.63 672.64,326.72 673.84,326.84 675.03,326.97 676.23,327.15 677.42,327.37 678.62,327.67 679.81,328.11 681.01,328.81 682.2,330.03 683.4,332.3 683.4,325.9" fill="#C4C4C4"/>
<line x1="635.6" y1="325.9" x2="683.4" y2="325.9" stroke="#B8B8B8" stroke-width="0.7" />
<line x1="543.7" y1="300" x2="543.7" y2="342.3" stroke="#C4C4C4" stroke-width="1.2" />
<line x1="543.7" y1="342.3" x2="683.4" y2="342.3" stroke="#111" stroke-width="0.9" />
<text x="541.4" y="303.72" font-size="5" fill="#4D4D4D" text-anchor="end">30</text>
<line x1="542.1" y1="302" x2="543.7" y2="302" stroke="#333" stroke-width="0.5" />
<text x="541.4" y="311.72" font-size="5" fill="#4D4D4D" text-anchor="end">20</text>
<line x1="542.1" y1="310" x2="543.7" y2="310" stroke="#333" stroke-width="0.5" />
<text x="541.4" y="319.62" font-size="5" fill="#4D4D4D" text-anchor="end">10</text>
<line x1="542.1" y1="317.9" x2="543.7" y2="317.9" stroke="#333" stroke-width="0.5" />
<text x="541.4" y="327.62" font-size="5" fill="#4D4D4D" text-anchor="end">0</text>
<line x1="542.1" y1="325.9" x2="543.7" y2="325.9" stroke="#333" stroke-width="0.5" />
<text x="541.4" y="335.82" font-size="5" fill="#4D4D4D" text-anchor="end">-10</text>
<line x1="542.1" y1="334.1" x2="543.7" y2="334.1" stroke="#333" stroke-width="0.5" />
<text x="541.4" y="343.92" font-size="5" fill="#4D4D4D" text-anchor="end">-20</text>
<line x1="542.1" y1="342.2" x2="543.7" y2="342.2" stroke="#333" stroke-width="0.5" />
<text x="580.42" y="349" font-size="4.95" fill="#4D4D4D" text-anchor="middle">5000</text>
<line x1="580.42" y1="342.3" x2="580.42" y2="343.8" stroke="#333" stroke-width="0.5" />
<text x="616.84" y="349" font-size="4.95" fill="#4D4D4D" text-anchor="middle">10000</text>
<line x1="616.84" y1="342.3" x2="616.84" y2="343.8" stroke="#333" stroke-width="0.5" />
<text x="653.26" y="349" font-size="4.95" fill="#4D4D4D" text-anchor="middle">15000</text>
<line x1="653.26" y1="342.3" x2="653.26" y2="343.8" stroke="#333" stroke-width="0.5" />
<text x="579.7" y="355.83" font-size="6.2" fill="#111" textLength="67.9" lengthAdjust="spacingAndGlyphs">Rank in Ordered Dataset</text>
<text transform="translate(531.01,243.1) rotate(-90)" x="0" y="0" font-size="6.14" fill="#111" text-anchor="middle" textLength="73.4" lengthAdjust="spacingAndGlyphs">Running Enrichment Score</text>
<text transform="translate(531.34,320.9) rotate(-90)" x="0" y="0" font-size="6.22" fill="#111" text-anchor="middle" textLength="51.5" lengthAdjust="spacingAndGlyphs">Ranked List Metric</text>
<text x="544.4" y="206.51" font-size="7.6" fill="#111" textLength="119" lengthAdjust="spacingAndGlyphs">IL6–JAK–STAT3 Signaling Pathway</text>
<text x="512.2" y="207.8" font-size="14.9" fill="#000" textLength="6.5" lengthAdjust="spacingAndGlyphs" stroke="#000" stroke-width="0.6">F</text></svg></body></html>
